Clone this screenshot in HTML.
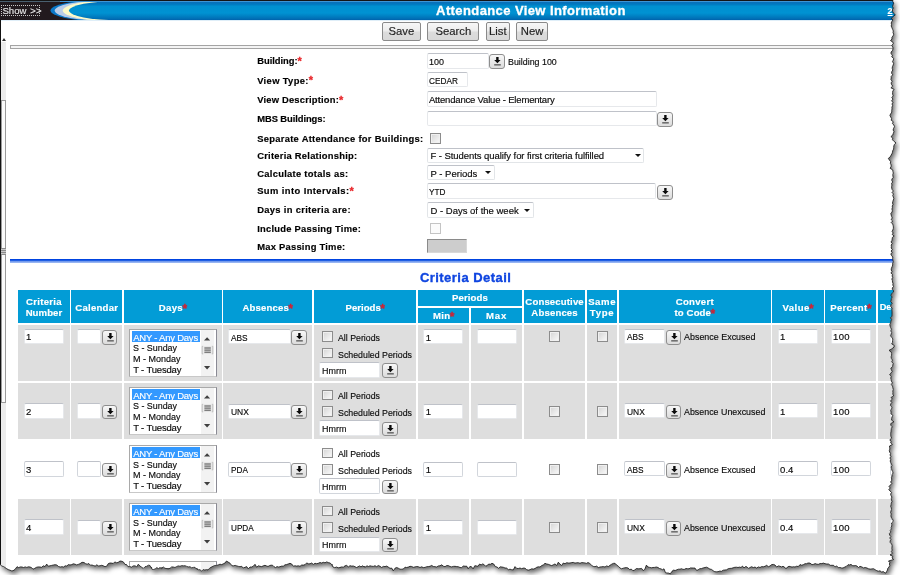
<!DOCTYPE html><html><head><meta charset="utf-8"><title>Attendance View Information</title><style>html,body{margin:0;padding:0;width:900px;height:575px;overflow:hidden;background:#fff;}body{font-family:"Liberation Sans", sans-serif;position:relative;}div{-webkit-text-stroke:0.15px currentColor;}#wrap{position:absolute;left:0;top:0;width:900px;height:575px;filter:drop-shadow(2.5px 3px 2.4px rgba(0,0,0,0.6));}#paper{position:absolute;left:0;top:0;width:900px;height:575px;background:#fff;overflow:hidden;clip-path:polygon(0.0px 0.0px,892.8px 0.0px,892.8px 1.6px,893.7px 3.2px,893.0px 4.9px,892.5px 6.5px,893.3px 8.1px,892.4px 9.8px,892.5px 11.4px,893.3px 13.0px,895.3px 14.8px,893.3px 16.5px,891.3px 18.2px,892.8px 20.0px,891.8px 21.5px,891.2px 23.0px,891.5px 24.5px,891.2px 26.0px,891.9px 27.7px,892.6px 29.3px,893.3px 31.0px,893.0px 32.6px,893.7px 34.2px,893.1px 35.8px,891.9px 37.4px,892.0px 39.0px,890.5px 40.6px,892.9px 42.2px,893.3px 43.8px,891.7px 45.4px,892.8px 47.0px,893.0px 48.7px,892.6px 50.3px,891.2px 52.0px,890.9px 53.6px,892.5px 55.2px,891.7px 56.8px,893.7px 58.4px,893.3px 60.0px,892.5px 61.7px,893.6px 63.3px,893.2px 65.0px,892.4px 66.7px,892.2px 68.3px,892.8px 70.0px,891.8px 71.6px,891.6px 73.2px,892.7px 74.8px,891.2px 76.4px,891.2px 78.0px,890.9px 79.6px,892.2px 81.2px,891.1px 82.9px,891.5px 84.5px,892.7px 86.1px,890.9px 87.8px,894.1px 89.4px,892.8px 91.0px,892.6px 92.6px,892.6px 94.2px,893.2px 95.9px,891.8px 97.5px,892.9px 99.1px,891.6px 100.8px,892.9px 102.4px,892.0px 104.0px,892.6px 105.6px,891.9px 107.2px,892.0px 108.9px,891.7px 110.5px,891.8px 112.1px,890.7px 113.8px,889.9px 115.4px,890.7px 117.0px,891.6px 118.6px,891.2px 120.2px,893.3px 121.8px,892.4px 123.4px,893.8px 125.0px,894.5px 126.7px,893.6px 128.3px,893.1px 130.0px,894.0px 131.7px,893.3px 133.3px,892.8px 135.0px,890.9px 136.6px,892.8px 138.1px,892.4px 139.7px,893.9px 141.3px,896.0px 142.9px,894.4px 144.4px,893.8px 146.0px,893.7px 147.6px,893.6px 149.1px,892.7px 150.7px,892.5px 152.2px,891.9px 153.8px,891.0px 155.3px,890.2px 156.9px,888.3px 158.4px,889.4px 160.0px,890.7px 161.7px,890.3px 163.3px,891.2px 165.0px,891.0px 166.7px,890.1px 168.3px,892.8px 170.0px,892.9px 171.5px,893.3px 173.0px,892.8px 174.5px,892.9px 176.0px,893.2px 177.5px,891.9px 179.0px,891.8px 180.5px,892.7px 182.0px,891.5px 183.5px,892.0px 185.0px,891.6px 186.5px,891.7px 188.0px,892.1px 189.5px,893.4px 191.0px,892.0px 192.5px,893.5px 194.0px,892.7px 195.5px,893.3px 197.0px,893.8px 198.5px,893.3px 200.0px,892.8px 201.5px,892.5px 203.0px,893.0px 204.5px,892.2px 206.0px,892.4px 207.5px,891.9px 209.0px,892.3px 210.5px,892.1px 212.0px,890.8px 213.5px,891.2px 215.0px,891.6px 216.5px,892.3px 218.0px,891.1px 219.5px,892.7px 221.0px,891.2px 222.5px,892.7px 224.0px,893.1px 225.5px,893.4px 227.0px,893.3px 228.5px,892.8px 230.0px,892.1px 231.5px,893.2px 233.0px,892.2px 234.5px,894.2px 236.0px,892.3px 237.5px,892.2px 239.0px,891.9px 240.5px,891.0px 242.0px,892.2px 243.5px,891.2px 245.0px,891.4px 246.5px,891.2px 248.0px,892.3px 249.5px,891.1px 251.0px,892.1px 252.5px,890.8px 254.0px,891.5px 255.5px,892.8px 257.0px,892.6px 258.5px,892.8px 260.0px,893.3px 261.7px,892.6px 263.3px,892.7px 265.0px,892.1px 266.7px,891.4px 268.3px,891.2px 270.0px,892.0px 271.5px,890.9px 273.0px,892.4px 274.5px,892.1px 276.0px,892.7px 277.5px,891.8px 279.0px,892.4px 280.5px,892.5px 282.0px,893.0px 283.5px,892.8px 285.0px,893.5px 286.5px,892.3px 288.0px,892.4px 289.5px,893.8px 291.0px,892.8px 292.5px,891.4px 294.0px,891.0px 295.5px,892.1px 297.0px,891.3px 298.5px,891.2px 300.0px,890.7px 301.6px,892.2px 303.2px,890.9px 304.9px,890.7px 306.5px,892.1px 308.1px,891.8px 309.8px,892.0px 311.4px,892.0px 313.0px,892.0px 314.6px,891.9px 316.2px,890.4px 317.9px,891.6px 319.5px,890.9px 321.1px,890.6px 322.8px,889.8px 324.4px,890.1px 326.0px,890.6px 327.6px,891.5px 329.2px,890.8px 330.9px,891.6px 332.5px,891.2px 334.1px,890.5px 335.8px,891.7px 337.4px,892.8px 339.0px,892.5px 340.6px,892.5px 342.2px,891.7px 343.9px,894.3px 345.5px,894.0px 347.1px,891.9px 348.8px,889.0px 350.4px,891.2px 352.0px,891.6px 353.6px,891.6px 355.2px,891.1px 356.9px,891.4px 358.5px,892.5px 360.1px,891.7px 361.8px,893.2px 363.4px,892.8px 365.0px,892.6px 366.6px,890.8px 368.2px,891.4px 369.9px,892.2px 371.5px,890.9px 373.1px,889.6px 374.8px,891.3px 376.4px,890.7px 378.0px,891.2px 379.6px,891.4px 381.2px,892.4px 382.9px,891.3px 384.5px,892.5px 386.1px,892.8px 387.8px,893.3px 389.4px,892.8px 391.0px,892.9px 392.6px,892.8px 394.2px,893.7px 395.9px,891.0px 397.5px,892.4px 399.1px,890.4px 400.8px,891.8px 402.4px,890.7px 404.0px,890.4px 405.6px,892.0px 407.2px,891.5px 408.9px,890.6px 410.5px,891.1px 412.1px,890.9px 413.8px,892.8px 415.4px,892.0px 417.0px,891.6px 418.6px,891.6px 420.2px,894.0px 421.9px,890.8px 423.5px,890.7px 425.1px,892.2px 426.8px,891.4px 428.4px,891.2px 430.0px,891.0px 431.6px,890.7px 433.2px,890.7px 434.9px,890.9px 436.5px,891.7px 438.1px,889.8px 439.8px,891.0px 441.4px,890.7px 443.0px,892.4px 444.5px,889.5px 446.0px,889.6px 447.5px,889.9px 449.0px,889.3px 450.5px,889.6px 452.0px,890.6px 453.5px,890.0px 455.0px,890.9px 456.5px,889.9px 458.0px,890.7px 459.5px,890.2px 461.0px,890.6px 462.5px,891.5px 464.0px,891.9px 465.5px,891.2px 467.0px,891.5px 468.5px,891.8px 470.0px,892.6px 471.5px,893.0px 473.0px,892.2px 474.5px,892.0px 476.0px,891.4px 477.5px,891.7px 479.0px,891.6px 480.5px,890.6px 482.0px,891.8px 483.5px,890.4px 485.0px,889.0px 486.5px,890.3px 488.0px,888.8px 489.5px,890.0px 491.0px,891.6px 492.5px,890.6px 494.0px,891.0px 495.5px,891.9px 497.0px,891.3px 498.5px,891.5px 500.0px,892.0px 501.6px,891.3px 503.1px,891.1px 504.7px,890.6px 506.3px,891.3px 507.9px,891.5px 509.4px,891.0px 511.0px,890.5px 512.5px,891.3px 514.0px,890.9px 515.5px,891.1px 517.0px,891.9px 518.5px,893.1px 520.0px,893.1px 521.5px,891.5px 523.0px,891.7px 524.5px,891.7px 526.0px,891.1px 527.5px,891.3px 529.0px,890.2px 530.5px,890.8px 532.0px,889.4px 533.5px,889.6px 535.0px,890.8px 536.5px,889.7px 538.0px,890.9px 539.5px,890.1px 541.0px,890.2px 542.5px,891.6px 544.0px,892.1px 545.5px,892.0px 547.0px,891.8px 548.6px,892.2px 550.1px,891.3px 551.7px,892.6px 553.3px,890.0px 554.9px,892.8px 556.4px,892.0px 558.0px,893.7px 559.5px,888.5px 561.0px,889.8px 562.5px,889.4px 564.0px,889.8px 565.5px,889.0px 567.0px,887.7px 568.5px,887.5px 570.0px,886.6px 571.5px,886.0px 573.0px,885.0px 573.0px,883.3px 571.6px,881.7px 572.1px,880.0px 570.8px,878.4px 571.2px,876.8px 570.7px,875.1px 569.7px,873.5px 568.7px,871.9px 568.9px,870.2px 569.1px,868.6px 568.8px,867.0px 568.0px,865.2px 567.5px,863.5px 567.9px,861.8px 566.9px,860.0px 566.3px,858.5px 567.5px,857.0px 566.1px,855.5px 565.5px,854.0px 565.8px,852.5px 565.6px,851.0px 564.4px,849.5px 564.9px,848.0px 564.7px,846.3px 566.4px,844.7px 567.1px,843.0px 568.0px,841.4px 567.9px,839.9px 567.5px,838.3px 567.7px,836.7px 565.9px,835.1px 566.9px,833.6px 565.3px,832.0px 565.3px,830.2px 565.3px,828.5px 564.0px,826.8px 564.0px,825.0px 563.7px,823.4px 563.1px,821.8px 563.6px,820.1px 563.5px,818.5px 564.3px,816.9px 564.2px,815.2px 563.6px,813.6px 564.3px,812.0px 564.7px,810.0px 563.1px,808.0px 563.0px,806.5px 563.7px,805.0px 563.7px,803.3px 564.7px,801.7px 565.2px,800.0px 564.6px,798.3px 566.6px,796.7px 566.2px,795.0px 567.0px,793.5px 566.7px,792.0px 567.1px,790.5px 566.6px,789.0px 566.3px,787.5px 567.0px,786.0px 568.8px,784.5px 567.1px,783.0px 566.3px,781.5px 566.9px,780.0px 566.3px,778.3px 565.9px,776.7px 567.1px,775.0px 565.0px,773.3px 564.4px,771.7px 564.6px,770.0px 566.0px,768.3px 566.7px,766.7px 565.3px,765.0px 566.3px,763.3px 566.8px,761.7px 566.6px,760.0px 567.5px,758.3px 566.9px,756.7px 568.1px,755.0px 567.0px,753.3px 567.6px,751.7px 566.7px,750.0px 567.5px,748.5px 568.4px,747.0px 566.9px,745.5px 566.6px,744.0px 568.0px,742.5px 566.1px,741.0px 567.5px,739.5px 567.1px,738.0px 567.5px,736.4px 567.2px,734.8px 567.3px,733.1px 567.8px,731.5px 568.3px,729.9px 568.4px,728.2px 568.7px,726.6px 569.8px,725.0px 570.0px,723.2px 570.2px,721.5px 571.3px,719.8px 571.1px,718.0px 571.7px,716.4px 571.8px,714.8px 571.7px,713.1px 570.7px,711.5px 569.4px,709.9px 569.1px,708.2px 568.0px,706.6px 567.2px,705.0px 567.5px,703.2px 567.9px,701.5px 568.6px,699.8px 568.7px,698.0px 570.0px,696.5px 570.3px,695.0px 568.1px,693.5px 568.0px,692.0px 568.0px,690.5px 567.9px,689.0px 568.8px,687.5px 568.7px,686.0px 568.5px,684.5px 569.3px,683.0px 569.4px,681.5px 568.7px,680.0px 569.2px,678.4px 569.2px,676.8px 569.8px,675.2px 570.5px,673.6px 570.1px,672.0px 571.3px,670.3px 573.9px,668.7px 573.1px,667.0px 573.0px,665.5px 572.8px,664.0px 568.8px,662.5px 569.7px,661.0px 568.9px,659.5px 568.5px,658.0px 567.5px,656.3px 567.0px,654.7px 567.4px,653.0px 567.5px,651.3px 567.8px,649.7px 567.4px,648.0px 567.0px,646.4px 565.1px,644.8px 569.4px,643.2px 570.6px,641.6px 568.4px,640.0px 568.7px,638.2px 568.8px,636.5px 568.5px,634.8px 569.9px,633.0px 570.8px,631.3px 569.1px,629.7px 569.6px,628.0px 568.0px,626.4px 567.6px,624.8px 567.8px,623.2px 568.2px,621.6px 568.8px,620.0px 568.0px,618.3px 566.2px,616.7px 565.1px,615.0px 563.3px,613.3px 563.4px,611.7px 564.2px,610.0px 565.3px,608.3px 566.6px,606.7px 565.9px,605.0px 567.0px,603.3px 566.6px,601.7px 566.8px,600.0px 567.0px,598.3px 567.6px,596.7px 566.1px,595.0px 566.7px,593.2px 566.4px,591.5px 565.2px,589.8px 563.5px,588.0px 562.5px,586.4px 563.4px,584.8px 562.9px,583.2px 562.7px,581.6px 562.6px,580.0px 563.3px,578.3px 562.7px,576.7px 562.8px,575.0px 563.1px,573.3px 562.4px,571.7px 562.6px,570.0px 563.0px,568.3px 563.0px,566.7px 562.7px,565.0px 563.7px,563.3px 563.0px,561.7px 565.5px,560.0px 564.2px,558.3px 562.2px,556.7px 565.5px,555.0px 563.9px,553.3px 564.8px,551.7px 565.6px,550.0px 565.0px,548.3px 564.3px,546.7px 564.0px,545.0px 563.3px,543.3px 564.9px,541.7px 565.6px,540.0px 567.0px,538.3px 566.8px,536.7px 567.3px,535.0px 568.5px,533.3px 569.1px,531.7px 568.8px,530.0px 569.7px,528.3px 570.1px,526.7px 569.7px,525.0px 568.2px,523.3px 568.1px,521.7px 568.7px,520.0px 568.0px,518.3px 568.5px,516.7px 568.4px,515.0px 566.6px,513.3px 569.9px,511.7px 569.7px,510.0px 569.2px,508.3px 569.7px,506.7px 568.1px,505.0px 568.0px,503.4px 567.3px,501.8px 567.0px,500.2px 566.8px,498.6px 568.3px,497.0px 567.0px,495.3px 566.6px,493.7px 564.0px,492.0px 563.3px,490.4px 564.3px,488.9px 564.1px,487.3px 565.2px,485.8px 566.3px,484.2px 564.7px,482.7px 563.9px,481.1px 564.9px,479.6px 564.0px,478.0px 566.3px,476.4px 565.9px,474.8px 565.7px,473.1px 568.9px,471.5px 566.7px,469.9px 566.5px,468.2px 568.8px,466.6px 566.1px,465.0px 566.3px,463.3px 565.9px,461.7px 567.7px,460.0px 567.5px,458.3px 566.7px,456.7px 566.6px,455.0px 566.3px,453.3px 566.4px,451.7px 566.9px,450.0px 566.5px,448.3px 565.6px,446.7px 565.6px,445.0px 566.7px,443.3px 566.2px,441.7px 564.8px,440.0px 565.8px,438.3px 565.9px,436.7px 567.0px,435.0px 566.7px,433.3px 566.5px,431.7px 565.4px,430.0px 566.3px,428.3px 566.6px,426.7px 566.7px,425.0px 567.4px,423.3px 567.6px,421.7px 566.8px,420.0px 567.5px,418.3px 566.7px,416.7px 566.5px,415.0px 566.9px,413.3px 567.3px,411.7px 566.5px,410.0px 566.3px,408.3px 567.1px,406.7px 567.5px,405.0px 567.2px,403.3px 569.0px,401.7px 569.2px,400.0px 569.2px,398.3px 568.2px,396.7px 567.5px,395.0px 568.2px,393.3px 570.9px,391.7px 568.1px,390.0px 568.3px,388.3px 567.1px,386.7px 566.1px,385.0px 566.6px,383.3px 566.4px,381.7px 567.5px,380.0px 566.3px,378.3px 565.5px,376.7px 566.7px,375.0px 565.7px,373.3px 566.4px,371.7px 566.2px,370.0px 565.8px,368.5px 566.5px,367.0px 565.8px,365.5px 566.9px,364.0px 566.8px,362.5px 565.8px,361.0px 566.9px,359.5px 565.9px,358.0px 566.8px,356.5px 567.5px,355.0px 566.7px,353.3px 566.0px,351.7px 566.1px,350.0px 565.7px,348.3px 566.9px,346.7px 565.4px,345.0px 565.8px,343.3px 567.2px,341.7px 566.9px,340.0px 567.5px,338.2px 567.8px,336.5px 567.0px,334.8px 567.7px,333.0px 567.0px,331.5px 564.2px,330.0px 563.0px,328.3px 562.6px,326.7px 561.9px,325.0px 562.8px,323.3px 562.3px,321.7px 563.0px,320.0px 562.5px,318.3px 563.3px,316.7px 563.7px,315.0px 563.3px,313.3px 564.4px,311.7px 563.0px,310.0px 563.8px,308.3px 563.8px,306.7px 562.9px,305.0px 564.7px,303.3px 565.1px,301.7px 565.0px,300.0px 566.3px,298.3px 565.8px,296.7px 566.1px,295.0px 565.8px,293.3px 566.2px,291.7px 564.0px,290.0px 563.3px,288.3px 563.9px,286.7px 564.6px,285.0px 564.8px,283.3px 566.2px,281.7px 566.1px,280.0px 566.7px,278.5px 567.0px,277.0px 566.6px,275.5px 567.6px,274.0px 566.7px,272.5px 565.2px,271.0px 565.2px,269.5px 565.6px,268.0px 566.5px,266.5px 565.9px,265.0px 565.3px,263.3px 565.8px,261.7px 566.6px,260.0px 566.3px,258.3px 565.8px,256.7px 567.3px,255.0px 564.3px,253.3px 566.2px,251.7px 567.0px,250.0px 567.0px,248.3px 568.9px,246.7px 566.6px,245.0px 567.3px,243.3px 568.0px,241.7px 566.3px,240.0px 566.7px,238.4px 566.4px,236.8px 565.9px,235.2px 565.4px,233.6px 565.8px,232.0px 565.8px,230.0px 563.2px,228.0px 562.0px,226.5px 561.0px,225.0px 563.0px,223.3px 563.8px,221.7px 564.6px,220.0px 564.2px,218.2px 564.9px,216.5px 565.5px,214.8px 565.4px,213.0px 566.3px,211.3px 567.1px,209.7px 568.1px,208.0px 570.0px,206.4px 569.6px,204.8px 570.0px,203.2px 569.5px,201.6px 571.1px,200.0px 569.7px,198.3px 569.7px,196.7px 569.1px,195.0px 567.3px,193.3px 567.4px,191.7px 567.8px,190.0px 566.7px,188.3px 566.9px,186.7px 566.4px,185.0px 565.7px,183.3px 565.8px,181.7px 565.6px,180.0px 566.3px,178.3px 565.9px,176.7px 566.5px,175.0px 567.5px,173.3px 567.0px,171.7px 566.9px,170.0px 568.3px,168.3px 568.8px,166.7px 568.6px,165.0px 568.3px,163.3px 567.0px,161.7px 568.6px,160.0px 567.5px,158.4px 568.6px,156.8px 567.6px,155.2px 568.9px,153.6px 569.5px,152.0px 569.2px,150.0px 565.5px,148.3px 565.2px,146.7px 566.3px,145.0px 566.7px,143.3px 568.4px,141.7px 567.2px,140.0px 566.1px,138.3px 564.2px,136.7px 566.8px,135.0px 565.8px,133.2px 565.9px,131.5px 567.1px,129.8px 566.5px,128.0px 566.7px,126.5px 564.5px,125.0px 564.5px,123.5px 562.1px,122.0px 561.3px,120.0px 561.0px,118.0px 562.5px,116.4px 562.7px,114.8px 561.9px,113.2px 563.5px,111.6px 563.1px,110.0px 563.0px,108.3px 563.6px,106.7px 566.2px,105.0px 566.7px,103.3px 565.8px,101.7px 565.3px,100.0px 565.8px,98.4px 565.9px,96.8px 564.8px,95.2px 566.1px,93.6px 565.6px,92.0px 565.0px,90.4px 565.2px,88.8px 563.5px,87.2px 564.2px,85.6px 563.7px,84.0px 562.5px,82.0px 562.3px,80.0px 563.7px,78.3px 564.4px,76.7px 564.9px,75.0px 564.2px,73.3px 563.8px,71.7px 564.6px,70.0px 565.0px,68.4px 564.6px,66.8px 566.0px,65.2px 565.8px,63.6px 567.0px,62.0px 566.7px,60.2px 567.0px,58.5px 566.5px,56.8px 565.0px,55.0px 564.7px,53.3px 565.0px,51.7px 565.4px,50.0px 565.8px,48.3px 566.2px,46.7px 564.1px,45.0px 566.6px,43.3px 565.8px,41.7px 567.3px,40.0px 567.0px,38.2px 566.9px,36.5px 567.3px,34.8px 568.3px,33.0px 569.2px,31.5px 567.6px,30.0px 567.0px,28.4px 566.8px,26.8px 567.4px,25.2px 566.9px,23.6px 567.5px,22.0px 567.0px,20.3px 566.9px,18.7px 567.6px,17.0px 566.7px,15.0px 569.4px,13.0px 570.8px,11.4px 570.8px,9.8px 570.1px,8.2px 569.6px,6.6px 568.6px,5.0px 567.5px,3.3px 566.4px,1.7px 566.1px,0.0px 564.2px,0.0px 564.2px);}</style></head><body><div id="wrap"><div id="paper">
<svg width="900" height="21" style="position:absolute;left:0;top:0" viewBox="0 0 900 21"><defs><linearGradient id="hg" x1="0" y1="0" x2="0" y2="21" gradientUnits="userSpaceOnUse"><stop offset="0" stop-color="#0a6fb8"/><stop offset="0.095" stop-color="#0a6fb8"/><stop offset="0.2" stop-color="#0078c0"/><stop offset="0.3" stop-color="#0090d0"/><stop offset="0.62" stop-color="#0092d2"/><stop offset="0.75" stop-color="#0082c4"/><stop offset="0.87" stop-color="#0072b8"/><stop offset="0.95" stop-color="#0062ac"/><stop offset="1" stop-color="#0062ac"/></linearGradient><clipPath id="hc"><rect x="0" y="1" width="900" height="19"/></clipPath></defs><rect x="0" y="0" width="900" height="21" fill="url(#hg)"/><rect x="0" y="1" width="110" height="19" fill="#221a1e"/><g clip-path="url(#hc)"><ellipse cx="100" cy="10.6" rx="49.5" ry="10.5" fill="#0a78c8"/><ellipse cx="104" cy="10.6" rx="49.3" ry="10" fill="#b9cce8"/><ellipse cx="112" cy="10.6" rx="49.3" ry="10.3" fill="#fcfac8"/><ellipse cx="119" cy="10.6" rx="50" ry="9.6" fill="url(#hg)"/><rect x="119" y="0" width="781" height="21" fill="url(#hg)"/></g><rect x="0" y="0" width="900" height="1" fill="#141414"/><rect x="0" y="1" width="60" height="1" fill="#4a6070"/><rect x="60" y="1" width="840" height="1" fill="#3d94d4"/><rect x="0" y="20" width="900" height="1" fill="#dfeef8"/></svg>
<div style="position:absolute;left:1.20px;top:5.20px;width:39.20px;height:10.50px;box-sizing:border-box;border:1px dotted #c8c8c8;"></div>
<div style="position:absolute;left:2.40px;top:5.77px;font-size:9.6px;line-height:9.6px;font-weight:normal;color:#e6e6e6;white-space:nowrap;word-spacing:1.2px;"><span style="">Show <span style="letter-spacing:0.1px">&gt;&gt;</span></span></div>
<div style="position:absolute;left:436.10px;top:3.70px;font-size:13px;line-height:13px;font-weight:bold;color:#fff;white-space:nowrap;-webkit-text-stroke:0.3px #fff;"><span style="letter-spacing:0.400px;">Attendance View Information</span></div>
<div style="position:absolute;left:887.60px;top:6.98px;font-size:9px;line-height:9px;font-weight:bold;color:#fff;white-space:nowrap;text-decoration:underline;"><span style="">2</span></div>
<div style="position:absolute;left:382.00px;top:22.30px;width:38.70px;height:18.50px;box-sizing:border-box;border:1px solid #8a8a8a;border-radius:2px;background:linear-gradient(#f7f7f7 0%,#ededed 45%,#dcdcdc 55%,#d8d8d8 100%);font-size:11.3px;line-height:16.5px;color:#222;text-align:center;">Save</div>
<div style="position:absolute;left:427.30px;top:22.30px;width:52.00px;height:18.50px;box-sizing:border-box;border:1px solid #8a8a8a;border-radius:2px;background:linear-gradient(#f7f7f7 0%,#ededed 45%,#dcdcdc 55%,#d8d8d8 100%);font-size:11.3px;line-height:16.5px;color:#222;text-align:center;">Search</div>
<div style="position:absolute;left:486.00px;top:22.30px;width:23.50px;height:18.50px;box-sizing:border-box;border:1px solid #8a8a8a;border-radius:2px;background:linear-gradient(#f7f7f7 0%,#ededed 45%,#dcdcdc 55%,#d8d8d8 100%);font-size:11.3px;line-height:16.5px;color:#222;text-align:center;">List</div>
<div style="position:absolute;left:516.00px;top:22.30px;width:32.20px;height:18.50px;box-sizing:border-box;border:1px solid #8a8a8a;border-radius:2px;background:linear-gradient(#f7f7f7 0%,#ededed 45%,#dcdcdc 55%,#d8d8d8 100%);font-size:11.3px;line-height:16.5px;color:#222;text-align:center;">New</div>
<div style="position:absolute;left:10.00px;top:45.00px;width:890.00px;height:4.00px;box-sizing:border-box;border:1px solid #a4a4a4;background:#f4f4f4;"></div>
<div style="position:absolute;left:0.00px;top:20.00px;width:1.00px;height:555.00px;background:#111;"></div>
<div style="position:absolute;left:1.00px;top:42.00px;width:5.00px;height:533.00px;background:#ececec;"></div>
<div style="position:absolute;left:2px;top:38px;width:0;height:0;border-left:2px solid transparent;border-right:2px solid transparent;border-bottom:3px solid #333;"></div>
<div style="position:absolute;left:1.00px;top:100.00px;width:5.00px;height:303.00px;box-sizing:border-box;border:1px solid #9a9a9a;background:#fafafa;"></div>
<div style="position:absolute;left:1.00px;top:248.30px;width:5.00px;height:6.30px;background:repeating-linear-gradient(#8a8a8a 0,#8a8a8a 1px,#c8c8c8 1px,#c8c8c8 2px);"></div>
<div style="position:absolute;left:257.20px;top:56.44px;font-size:9.4px;line-height:9.4px;font-weight:bold;color:#000;white-space:nowrap;"><span style="letter-spacing:-0.023px;">Building:</span><span style="color:#e8262a;font-size:11px;line-height:0;position:relative;top:0.9px;-webkit-text-stroke:0.3px #e8262a">*</span></div>
<div style="position:absolute;left:257.20px;top:75.54px;font-size:9.4px;line-height:9.4px;font-weight:bold;color:#000;white-space:nowrap;"><span style="letter-spacing:0.348px;">View Type:</span><span style="color:#e8262a;font-size:11px;line-height:0;position:relative;top:0.9px;-webkit-text-stroke:0.3px #e8262a">*</span></div>
<div style="position:absolute;left:257.20px;top:94.74px;font-size:9.4px;line-height:9.4px;font-weight:bold;color:#000;white-space:nowrap;"><span style="letter-spacing:0.196px;">View Description:</span><span style="color:#e8262a;font-size:11px;line-height:0;position:relative;top:0.9px;-webkit-text-stroke:0.3px #e8262a">*</span></div>
<div style="position:absolute;left:257.20px;top:114.34px;font-size:9.4px;line-height:9.4px;font-weight:bold;color:#000;white-space:nowrap;"><span style="letter-spacing:-0.071px;">MBS Buildings:</span></div>
<div style="position:absolute;left:257.20px;top:133.84px;font-size:9.4px;line-height:9.4px;font-weight:bold;color:#000;white-space:nowrap;"><span style="letter-spacing:0.287px;">Separate Attendance for Buildings:</span></div>
<div style="position:absolute;left:257.20px;top:150.74px;font-size:9.4px;line-height:9.4px;font-weight:bold;color:#000;white-space:nowrap;"><span style="letter-spacing:0.244px;">Criteria Relationship:</span></div>
<div style="position:absolute;left:257.20px;top:168.54px;font-size:9.4px;line-height:9.4px;font-weight:bold;color:#000;white-space:nowrap;"><span style="letter-spacing:0.289px;">Calculate totals as:</span></div>
<div style="position:absolute;left:257.20px;top:186.24px;font-size:9.4px;line-height:9.4px;font-weight:bold;color:#000;white-space:nowrap;"><span style="letter-spacing:0.419px;">Sum into Intervals:</span><span style="color:#e8262a;font-size:11px;line-height:0;position:relative;top:0.9px;-webkit-text-stroke:0.3px #e8262a">*</span></div>
<div style="position:absolute;left:257.20px;top:205.34px;font-size:9.4px;line-height:9.4px;font-weight:bold;color:#000;white-space:nowrap;"><span style="letter-spacing:0.315px;">Days in criteria are:</span></div>
<div style="position:absolute;left:257.20px;top:223.64px;font-size:9.4px;line-height:9.4px;font-weight:bold;color:#000;white-space:nowrap;"><span style="letter-spacing:0.241px;">Include Passing Time:</span></div>
<div style="position:absolute;left:257.20px;top:242.24px;font-size:9.4px;line-height:9.4px;font-weight:bold;color:#000;white-space:nowrap;"><span style="letter-spacing:0.238px;">Max Passing Time:</span></div>
<div style="position:absolute;left:426.50px;top:53.00px;width:62.00px;height:15.60px;box-sizing:border-box;background:#fff;border:1px solid #e6e8eb;border-top-color:#bfc2c9;border-radius:2px;"></div>
<div style="position:absolute;left:428.90px;top:56.76px;font-size:9.5px;line-height:9.5px;font-weight:normal;color:#0a0a0a;white-space:nowrap;"><span style="display:inline-block;transform:scaleX(0.9427);transform-origin:0 0;">100</span></div>
<div style="position:absolute;left:489.20px;top:54.20px;width:15.60px;height:14.60px;box-sizing:border-box;border:1px solid #8e8e8e;border-radius:3px;background:linear-gradient(#f8f8f8,#e9e9e9 50%,#dcdcdc);"><svg width="15.6" height="14.6" style="position:absolute;left:-1px;top:-1px" viewBox="0 0 15.6 14.6"><path d="M7.2 2.9 h2.4 v3.1 h2.0 l-3.2 3.3 l-3.2 -3.3 h2.0 z" fill="#0a0a0a"/><rect x="5.2" y="10.2" width="6.6" height="1.3" fill="#555"/></svg></div>
<div style="position:absolute;left:508.30px;top:56.96px;font-size:9.5px;line-height:9.5px;font-weight:normal;color:#0a0a0a;white-space:nowrap;"><span style="display:inline-block;transform:scaleX(0.9322);transform-origin:0 0;">Building 100</span></div>
<div style="position:absolute;left:426.50px;top:72.10px;width:41.10px;height:15.40px;box-sizing:border-box;background:#fff;border:1px solid #e6e8eb;border-top-color:#bfc2c9;border-radius:2px;"></div>
<div style="position:absolute;left:428.90px;top:75.76px;font-size:9.5px;line-height:9.5px;font-weight:normal;color:#0a0a0a;white-space:nowrap;"><span style="display:inline-block;transform:scaleX(0.8703);transform-origin:0 0;">CEDAR</span></div>
<div style="position:absolute;left:426.50px;top:91.30px;width:230.20px;height:15.30px;box-sizing:border-box;background:#fff;border:1px solid #e6e8eb;border-top-color:#bfc2c9;border-radius:2px;"></div>
<div style="position:absolute;left:428.90px;top:94.91px;font-size:9.5px;line-height:9.5px;font-weight:normal;color:#0a0a0a;white-space:nowrap;"><span style="letter-spacing:-0.180px;">Attendance Value - Elementary</span></div>
<div style="position:absolute;left:426.50px;top:110.80px;width:230.20px;height:15.40px;box-sizing:border-box;background:#fff;border:1px solid #e6e8eb;border-top-color:#bfc2c9;border-radius:2px;"></div>
<div style="position:absolute;left:657.30px;top:112.00px;width:15.60px;height:14.60px;box-sizing:border-box;border:1px solid #8e8e8e;border-radius:3px;background:linear-gradient(#f8f8f8,#e9e9e9 50%,#dcdcdc);"><svg width="15.6" height="14.6" style="position:absolute;left:-1px;top:-1px" viewBox="0 0 15.6 14.6"><path d="M7.2 2.9 h2.4 v3.1 h2.0 l-3.2 3.3 l-3.2 -3.3 h2.0 z" fill="#0a0a0a"/><rect x="5.2" y="10.2" width="6.6" height="1.3" fill="#555"/></svg></div>
<div style="position:absolute;left:430.00px;top:133.00px;width:11.00px;height:10.80px;box-sizing:border-box;border:1px solid #8c8c8c;background:linear-gradient(135deg,#d4d4d4,#fbfbfb);box-shadow:inset 0 0 0 1px #f0f0f0;"></div>
<div style="position:absolute;left:426.50px;top:147.50px;width:217.80px;height:15.60px;box-sizing:border-box;background:#fff;border:1px solid #e2e5e8;border-top-color:#bfc2c9;border-radius:2px;"></div>
<div style="position:absolute;left:430.50px;top:151.26px;font-size:9.5px;line-height:9.5px;font-weight:normal;color:#0a0a0a;white-space:nowrap;"><span style="letter-spacing:-0.067px;">F - Students qualify for first criteria fulfilled</span></div>
<div style="position:absolute;left:634.5px;top:153.7px;width:0;height:0;border-left:3px solid transparent;border-right:3px solid transparent;border-top:3.5px solid #111;"></div>
<div style="position:absolute;left:426.50px;top:165.10px;width:68.10px;height:15.10px;box-sizing:border-box;background:#fff;border:1px solid #e2e5e8;border-top-color:#bfc2c9;border-radius:2px;"></div>
<div style="position:absolute;left:430.50px;top:168.61px;font-size:9.5px;line-height:9.5px;font-weight:normal;color:#0a0a0a;white-space:nowrap;"><span style="">P - Periods</span></div>
<div style="position:absolute;left:484.8px;top:171.1px;width:0;height:0;border-left:3px solid transparent;border-right:3px solid transparent;border-top:3.5px solid #111;"></div>
<div style="position:absolute;left:426.50px;top:183.10px;width:229.80px;height:16.30px;box-sizing:border-box;background:#fff;border:1px solid #e6e8eb;border-top-color:#bfc2c9;border-radius:2px;"></div>
<div style="position:absolute;left:428.90px;top:187.21px;font-size:9.5px;line-height:9.5px;font-weight:normal;color:#0a0a0a;white-space:nowrap;"><span style="display:inline-block;transform:scaleX(0.8658);transform-origin:0 0;">YTD</span></div>
<div style="position:absolute;left:657.30px;top:185.30px;width:15.60px;height:14.60px;box-sizing:border-box;border:1px solid #8e8e8e;border-radius:3px;background:linear-gradient(#f8f8f8,#e9e9e9 50%,#dcdcdc);"><svg width="15.6" height="14.6" style="position:absolute;left:-1px;top:-1px" viewBox="0 0 15.6 14.6"><path d="M7.2 2.9 h2.4 v3.1 h2.0 l-3.2 3.3 l-3.2 -3.3 h2.0 z" fill="#0a0a0a"/><rect x="5.2" y="10.2" width="6.6" height="1.3" fill="#555"/></svg></div>
<div style="position:absolute;left:426.50px;top:202.40px;width:107.00px;height:15.40px;box-sizing:border-box;background:#fff;border:1px solid #e2e5e8;border-top-color:#bfc2c9;border-radius:2px;"></div>
<div style="position:absolute;left:430.50px;top:206.06px;font-size:9.5px;line-height:9.5px;font-weight:normal;color:#0a0a0a;white-space:nowrap;"><span style="">D - Days of the week</span></div>
<div style="position:absolute;left:523.7px;top:208.5px;width:0;height:0;border-left:3px solid transparent;border-right:3px solid transparent;border-top:3.5px solid #111;"></div>
<div style="position:absolute;left:430.00px;top:223.20px;width:11.00px;height:10.80px;box-sizing:border-box;border:1px solid #c4c4c4;background:#fbfbfb;"></div>
<div style="position:absolute;left:426.50px;top:239.00px;width:40.30px;height:14.40px;box-sizing:border-box;background:#cdcdcd;border-top:1.6px solid #8a8a8a;border-left:1.6px solid #8a8a8a;border-right:1px solid #d8d8d8;border-bottom:1px solid #d8d8d8;"></div>
<div style="position:absolute;left:10.00px;top:258.80px;width:890.00px;height:4.20px;background:linear-gradient(#0040e0 0%,#0048e0 30%,#6a94ec 55%,#a8c2f4 100%);"></div>
<div style="position:absolute;left:419.90px;top:271.20px;font-size:13px;line-height:13px;font-weight:bold;color:#0f45e0;white-space:nowrap;-webkit-text-stroke:0.35px #0f45e0;"><span style="letter-spacing:0.461px;">Criteria Detail</span></div>
<div style="position:absolute;left:18.30px;top:290.10px;width:51.30px;height:33.30px;background:#029cd6;"></div>
<div style="position:absolute;left:71.10px;top:290.10px;width:51.40px;height:33.30px;background:#029cd6;"></div>
<div style="position:absolute;left:124.00px;top:290.10px;width:97.80px;height:33.30px;background:#029cd6;"></div>
<div style="position:absolute;left:223.30px;top:290.10px;width:89.00px;height:33.30px;background:#029cd6;"></div>
<div style="position:absolute;left:314.00px;top:290.10px;width:102.40px;height:33.30px;background:#029cd6;"></div>
<div style="position:absolute;left:524.00px;top:290.10px;width:61.20px;height:33.30px;background:#029cd6;"></div>
<div style="position:absolute;left:587.00px;top:290.10px;width:30.20px;height:33.30px;background:#029cd6;"></div>
<div style="position:absolute;left:619.00px;top:290.10px;width:151.70px;height:33.30px;background:#029cd6;"></div>
<div style="position:absolute;left:772.30px;top:290.10px;width:51.70px;height:33.30px;background:#029cd6;"></div>
<div style="position:absolute;left:825.30px;top:290.10px;width:51.20px;height:33.30px;background:#029cd6;"></div>
<div style="position:absolute;left:878.30px;top:290.10px;width:81.70px;height:33.30px;background:#029cd6;"></div>
<div style="position:absolute;left:418.00px;top:290.10px;width:104.00px;height:15.60px;background:#029cd6;"></div>
<div style="position:absolute;left:418.00px;top:307.50px;width:51.40px;height:15.90px;background:#029cd6;"></div>
<div style="position:absolute;left:471.00px;top:307.50px;width:51.00px;height:15.90px;background:#029cd6;"></div>
<div style="position:absolute;left:18.30px;top:296.57px;width:51.30px;text-align:center;font-size:9.6px;line-height:9.6px;font-weight:bold;color:#fff;white-space:nowrap;"><span style="letter-spacing:0.295px;">Criteria</span></div>
<div style="position:absolute;left:18.30px;top:307.57px;width:51.30px;text-align:center;font-size:9.6px;line-height:9.6px;font-weight:bold;color:#fff;white-space:nowrap;"><span style="letter-spacing:0.062px;">Number</span></div>
<div style="position:absolute;left:71.10px;top:302.57px;width:51.40px;text-align:center;font-size:9.6px;line-height:9.6px;font-weight:bold;color:#fff;white-space:nowrap;"><span style="letter-spacing:0.228px;">Calendar</span></div>
<div style="position:absolute;left:124.00px;top:302.57px;width:97.80px;text-align:center;font-size:9.6px;line-height:9.6px;font-weight:bold;color:#fff;white-space:nowrap;"><span style="letter-spacing:0.374px;">Days</span><span style="color:#d42030;font-size:12px;line-height:0;position:relative;top:2.3px;margin-left:-0.6px;-webkit-text-stroke:0.3px #d42030">*</span></div>
<div style="position:absolute;left:223.30px;top:302.57px;width:89.00px;text-align:center;font-size:9.6px;line-height:9.6px;font-weight:bold;color:#fff;white-space:nowrap;"><span style="letter-spacing:0.133px;">Absences</span><span style="color:#d42030;font-size:12px;line-height:0;position:relative;top:2.3px;margin-left:-0.6px;-webkit-text-stroke:0.3px #d42030">*</span></div>
<div style="position:absolute;left:314.00px;top:302.57px;width:102.40px;text-align:center;font-size:9.6px;line-height:9.6px;font-weight:bold;color:#fff;white-space:nowrap;"><span style="letter-spacing:0.009px;">Periods</span><span style="color:#d42030;font-size:12px;line-height:0;position:relative;top:2.3px;margin-left:-0.6px;-webkit-text-stroke:0.3px #d42030">*</span></div>
<div style="position:absolute;left:418.00px;top:293.27px;width:104.00px;text-align:center;font-size:9.6px;line-height:9.6px;font-weight:bold;color:#fff;white-space:nowrap;"><span style="letter-spacing:0.126px;">Periods</span></div>
<div style="position:absolute;left:418.00px;top:310.57px;width:51.40px;text-align:center;font-size:9.6px;line-height:9.6px;font-weight:bold;color:#fff;white-space:nowrap;"><span style="letter-spacing:0.214px;">Min</span><span style="color:#d42030;font-size:12px;line-height:0;position:relative;top:2.3px;margin-left:-0.6px;-webkit-text-stroke:0.3px #d42030">*</span></div>
<div style="position:absolute;left:471.00px;top:310.57px;width:51.00px;text-align:center;font-size:9.6px;line-height:9.6px;font-weight:bold;color:#fff;white-space:nowrap;"><span style="letter-spacing:0.794px;">Max</span></div>
<div style="position:absolute;left:524.00px;top:296.57px;width:61.20px;text-align:center;font-size:9.6px;line-height:9.6px;font-weight:bold;color:#fff;white-space:nowrap;"><span style="letter-spacing:0.130px;">Consecutive</span></div>
<div style="position:absolute;left:524.00px;top:307.57px;width:61.20px;text-align:center;font-size:9.6px;line-height:9.6px;font-weight:bold;color:#fff;white-space:nowrap;"><span style="letter-spacing:0.147px;">Absences</span></div>
<div style="position:absolute;left:587.00px;top:296.57px;width:30.20px;text-align:center;font-size:9.6px;line-height:9.6px;font-weight:bold;color:#fff;white-space:nowrap;"><span style="letter-spacing:0.584px;">Same</span></div>
<div style="position:absolute;left:587.00px;top:307.57px;width:30.20px;text-align:center;font-size:9.6px;line-height:9.6px;font-weight:bold;color:#fff;white-space:nowrap;"><span style="letter-spacing:0.757px;">Type</span></div>
<div style="position:absolute;left:619.00px;top:296.57px;width:151.70px;text-align:center;font-size:9.6px;line-height:9.6px;font-weight:bold;color:#fff;white-space:nowrap;"><span style="letter-spacing:0.285px;">Convert</span></div>
<div style="position:absolute;left:619.00px;top:307.57px;width:151.70px;text-align:center;font-size:9.6px;line-height:9.6px;font-weight:bold;color:#fff;white-space:nowrap;"><span style="letter-spacing:0.107px;">to Code</span><span style="color:#d42030;font-size:12px;line-height:0;position:relative;top:2.3px;margin-left:-0.6px;-webkit-text-stroke:0.3px #d42030">*</span></div>
<div style="position:absolute;left:772.30px;top:302.57px;width:51.70px;text-align:center;font-size:9.6px;line-height:9.6px;font-weight:bold;color:#fff;white-space:nowrap;"><span style="letter-spacing:0.395px;">Value</span><span style="color:#d42030;font-size:12px;line-height:0;position:relative;top:2.3px;margin-left:-0.6px;-webkit-text-stroke:0.3px #d42030">*</span></div>
<div style="position:absolute;left:825.30px;top:302.57px;width:51.20px;text-align:center;font-size:9.6px;line-height:9.6px;font-weight:bold;color:#fff;white-space:nowrap;"><span style="letter-spacing:0.293px;">Percent</span><span style="color:#d42030;font-size:12px;line-height:0;position:relative;top:2.3px;margin-left:-0.6px;-webkit-text-stroke:0.3px #d42030">*</span></div>
<div style="position:absolute;left:879.70px;top:303.21px;font-size:9.2px;line-height:9.2px;font-weight:bold;color:#fff;white-space:nowrap;"><span style="">Dea</span></div>
<div style="position:absolute;left:18.30px;top:324.60px;width:51.30px;height:56.30px;background:#dedede;"></div>
<div style="position:absolute;left:71.10px;top:324.60px;width:51.40px;height:56.30px;background:#dedede;"></div>
<div style="position:absolute;left:124.00px;top:324.60px;width:97.80px;height:56.30px;background:#dedede;"></div>
<div style="position:absolute;left:223.30px;top:324.60px;width:89.00px;height:56.30px;background:#dedede;"></div>
<div style="position:absolute;left:314.00px;top:324.60px;width:102.40px;height:56.30px;background:#dedede;"></div>
<div style="position:absolute;left:418.00px;top:324.60px;width:51.40px;height:56.30px;background:#dedede;"></div>
<div style="position:absolute;left:471.00px;top:324.60px;width:51.00px;height:56.30px;background:#dedede;"></div>
<div style="position:absolute;left:524.00px;top:324.60px;width:61.20px;height:56.30px;background:#dedede;"></div>
<div style="position:absolute;left:587.00px;top:324.60px;width:30.20px;height:56.30px;background:#dedede;"></div>
<div style="position:absolute;left:619.00px;top:324.60px;width:151.70px;height:56.30px;background:#dedede;"></div>
<div style="position:absolute;left:772.30px;top:324.60px;width:51.70px;height:56.30px;background:#dedede;"></div>
<div style="position:absolute;left:825.30px;top:324.60px;width:51.20px;height:56.30px;background:#dedede;"></div>
<div style="position:absolute;left:878.30px;top:324.60px;width:81.70px;height:56.30px;background:#dedede;"></div>
<div style="position:absolute;left:23.50px;top:328.60px;width:40.60px;height:15.40px;box-sizing:border-box;background:#fff;border:1px solid #e6e8eb;border-top-color:#bfc2c9;border-radius:2px;"></div>
<div style="position:absolute;left:25.90px;top:332.26px;font-size:9.5px;line-height:9.5px;font-weight:normal;color:#0a0a0a;white-space:nowrap;"><span style="">1</span></div>
<div style="position:absolute;left:76.70px;top:328.80px;width:24.00px;height:15.40px;box-sizing:border-box;background:#fff;border:1px solid #e6e8eb;border-top-color:#bfc2c9;border-radius:2px;"></div>
<div style="position:absolute;left:101.50px;top:330.20px;width:15.60px;height:14.60px;box-sizing:border-box;border:1px solid #8e8e8e;border-radius:3px;background:linear-gradient(#f8f8f8,#e9e9e9 50%,#dcdcdc);"><svg width="15.6" height="14.6" style="position:absolute;left:-1px;top:-1px" viewBox="0 0 15.6 14.6"><path d="M7.2 2.9 h2.4 v3.1 h2.0 l-3.2 3.3 l-3.2 -3.3 h2.0 z" fill="#0a0a0a"/><rect x="5.2" y="10.2" width="6.6" height="1.3" fill="#555"/></svg></div>
<div style="position:absolute;left:129.20px;top:328.60px;width:87.60px;height:48.30px;box-sizing:border-box;background:#fff;border:1px solid #a9a9a9;border-right-color:#8a8a94;border-bottom-color:#c8c8c8;"></div>
<div style="position:absolute;left:132.00px;top:331.10px;width:68.00px;height:10.80px;background:#3399ff;"></div>
<div style="position:absolute;left:133.20px;top:332.56px;font-size:9.5px;line-height:9.5px;font-weight:normal;color:#fff;white-space:nowrap;"><span style="letter-spacing:-0.230px;">ANY - Any Days</span></div>
<div style="position:absolute;left:133.20px;top:343.36px;font-size:9.5px;line-height:9.5px;font-weight:normal;color:#0a0a0a;white-space:nowrap;"><span style="display:inline-block;transform:scaleX(0.9351);transform-origin:0 0;">S - Sunday</span></div>
<div style="position:absolute;left:133.20px;top:354.06px;font-size:9.5px;line-height:9.5px;font-weight:normal;color:#0a0a0a;white-space:nowrap;"><span style="display:inline-block;transform:scaleX(0.9460);transform-origin:0 0;">M - Monday</span></div>
<div style="position:absolute;left:133.20px;top:364.56px;font-size:9.5px;line-height:9.5px;font-weight:normal;color:#0a0a0a;white-space:nowrap;"><span style="letter-spacing:-0.175px;">T - Tuesday</span></div>
<svg width="13" height="46" viewBox="0 0 13 46" style="position:absolute;left:201.00px;top:329.60px"><rect x="0" y="0" width="13" height="46" fill="#f2f2f2"/><polygon points="3,10.6 9.2,10.6 6.1,7.2" fill="#404040"/><polygon points="3,36 9.2,36 6.1,39.4" fill="#404040"/><path d="M2.2 16.3 h-1 v7.6 h1 M10.8 16.3 h1 v7.6 h-1" fill="none" stroke="#b8b8b8" stroke-width="0.9"/><rect x="2.6" y="16.2" width="8" height="7.8" fill="#e4e4e4"/><path d="M3.4 18 h6.4 M3.4 20.1 h6.4 M3.4 22.2 h6.4" stroke="#505050" stroke-width="1"/></svg>
<div style="position:absolute;left:228.40px;top:329.20px;width:62.30px;height:15.00px;box-sizing:border-box;background:#fff;border:1px solid #e6e8eb;border-top-color:#bfc2c9;border-radius:2px;"></div>
<div style="position:absolute;left:230.80px;top:332.66px;font-size:9.5px;line-height:9.5px;font-weight:normal;color:#0a0a0a;white-space:nowrap;"><span style="display:inline-block;transform:scaleX(0.8756);transform-origin:0 0;">ABS</span></div>
<div style="position:absolute;left:291.00px;top:330.30px;width:15.60px;height:14.60px;box-sizing:border-box;border:1px solid #8e8e8e;border-radius:3px;background:linear-gradient(#f8f8f8,#e9e9e9 50%,#dcdcdc);"><svg width="15.6" height="14.6" style="position:absolute;left:-1px;top:-1px" viewBox="0 0 15.6 14.6"><path d="M7.2 2.9 h2.4 v3.1 h2.0 l-3.2 3.3 l-3.2 -3.3 h2.0 z" fill="#0a0a0a"/><rect x="5.2" y="10.2" width="6.6" height="1.3" fill="#555"/></svg></div>
<div style="position:absolute;left:322.20px;top:331.40px;width:11.00px;height:10.80px;box-sizing:border-box;border:1px solid #8c8c8c;background:linear-gradient(135deg,#d4d4d4,#fbfbfb);box-shadow:inset 0 0 0 1px #f0f0f0;"></div>
<div style="position:absolute;left:337.80px;top:332.86px;font-size:9.5px;line-height:9.5px;font-weight:normal;color:#0a0a0a;white-space:nowrap;"><span style="display:inline-block;transform:scaleX(0.9236);transform-origin:0 0;">All Periods</span></div>
<div style="position:absolute;left:322.20px;top:347.70px;width:11.00px;height:10.80px;box-sizing:border-box;border:1px solid #8c8c8c;background:linear-gradient(135deg,#d4d4d4,#fbfbfb);box-shadow:inset 0 0 0 1px #f0f0f0;"></div>
<div style="position:absolute;left:337.80px;top:349.56px;font-size:9.5px;line-height:9.5px;font-weight:normal;color:#0a0a0a;white-space:nowrap;"><span style="display:inline-block;transform:scaleX(0.9273);transform-origin:0 0;">Scheduled Periods</span></div>
<div style="position:absolute;left:319.30px;top:362.20px;width:61.20px;height:15.40px;box-sizing:border-box;background:#fff;border:1px solid #e6e8eb;border-top-color:#bfc2c9;border-radius:2px;"></div>
<div style="position:absolute;left:321.70px;top:365.86px;font-size:9.5px;line-height:9.5px;font-weight:normal;color:#0a0a0a;white-space:nowrap;"><span style="display:inline-block;transform:scaleX(0.9416);transform-origin:0 0;">Hmrm</span></div>
<div style="position:absolute;left:382.20px;top:363.40px;width:15.60px;height:14.60px;box-sizing:border-box;border:1px solid #8e8e8e;border-radius:3px;background:linear-gradient(#f8f8f8,#e9e9e9 50%,#dcdcdc);"><svg width="15.6" height="14.6" style="position:absolute;left:-1px;top:-1px" viewBox="0 0 15.6 14.6"><path d="M7.2 2.9 h2.4 v3.1 h2.0 l-3.2 3.3 l-3.2 -3.3 h2.0 z" fill="#0a0a0a"/><rect x="5.2" y="10.2" width="6.6" height="1.3" fill="#555"/></svg></div>
<div style="position:absolute;left:423.40px;top:329.20px;width:40.00px;height:14.80px;box-sizing:border-box;background:#fff;border:1px solid #e6e8eb;border-top-color:#bfc2c9;border-radius:2px;"></div>
<div style="position:absolute;left:425.80px;top:332.56px;font-size:9.5px;line-height:9.5px;font-weight:normal;color:#0a0a0a;white-space:nowrap;"><span style="">1</span></div>
<div style="position:absolute;left:476.50px;top:329.20px;width:40.00px;height:14.80px;box-sizing:border-box;background:#fff;border:1px solid #e6e8eb;border-top-color:#bfc2c9;border-radius:2px;"></div>
<div style="position:absolute;left:549.20px;top:331.20px;width:11.00px;height:10.80px;box-sizing:border-box;border:1px solid #8c8c8c;background:linear-gradient(135deg,#d4d4d4,#fbfbfb);box-shadow:inset 0 0 0 1px #f0f0f0;"></div>
<div style="position:absolute;left:596.80px;top:331.20px;width:11.00px;height:10.80px;box-sizing:border-box;border:1px solid #8c8c8c;background:linear-gradient(135deg,#d4d4d4,#fbfbfb);box-shadow:inset 0 0 0 1px #f0f0f0;"></div>
<div style="position:absolute;left:624.20px;top:328.70px;width:40.50px;height:15.00px;box-sizing:border-box;background:#fff;border:1px solid #e6e8eb;border-top-color:#bfc2c9;border-radius:2px;"></div>
<div style="position:absolute;left:626.60px;top:332.16px;font-size:9.5px;line-height:9.5px;font-weight:normal;color:#0a0a0a;white-space:nowrap;"><span style="display:inline-block;transform:scaleX(0.8756);transform-origin:0 0;">ABS</span></div>
<div style="position:absolute;left:665.80px;top:330.30px;width:15.60px;height:14.60px;box-sizing:border-box;border:1px solid #8e8e8e;border-radius:3px;background:linear-gradient(#f8f8f8,#e9e9e9 50%,#dcdcdc);"><svg width="15.6" height="14.6" style="position:absolute;left:-1px;top:-1px" viewBox="0 0 15.6 14.6"><path d="M7.2 2.9 h2.4 v3.1 h2.0 l-3.2 3.3 l-3.2 -3.3 h2.0 z" fill="#0a0a0a"/><rect x="5.2" y="10.2" width="6.6" height="1.3" fill="#555"/></svg></div>
<div style="position:absolute;left:683.70px;top:332.16px;font-size:9.5px;line-height:9.5px;font-weight:normal;color:#0a0a0a;white-space:nowrap;"><span style="display:inline-block;transform:scaleX(0.9396);transform-origin:0 0;">Absence Excused</span></div>
<div style="position:absolute;left:777.70px;top:328.70px;width:40.10px;height:15.00px;box-sizing:border-box;background:#fff;border:1px solid #e6e8eb;border-top-color:#bfc2c9;border-radius:2px;"></div>
<div style="position:absolute;left:780.10px;top:332.16px;font-size:9.5px;line-height:9.5px;font-weight:normal;color:#0a0a0a;white-space:nowrap;"><span style="">1</span></div>
<div style="position:absolute;left:830.70px;top:328.70px;width:40.00px;height:15.00px;box-sizing:border-box;background:#fff;border:1px solid #e6e8eb;border-top-color:#bfc2c9;border-radius:2px;"></div>
<div style="position:absolute;left:833.10px;top:332.16px;font-size:9.5px;line-height:9.5px;font-weight:normal;color:#0a0a0a;white-space:nowrap;"><span style="letter-spacing:0.295px;">100</span></div>
<div style="position:absolute;left:889.50px;top:328.70px;width:40.00px;height:15.00px;box-sizing:border-box;background:#fff;border:1px solid #e6e8eb;border-top-color:#bfc2c9;border-radius:2px;"></div>
<div style="position:absolute;left:18.30px;top:382.70px;width:51.30px;height:56.30px;background:#dedede;"></div>
<div style="position:absolute;left:71.10px;top:382.70px;width:51.40px;height:56.30px;background:#dedede;"></div>
<div style="position:absolute;left:124.00px;top:382.70px;width:97.80px;height:56.30px;background:#dedede;"></div>
<div style="position:absolute;left:223.30px;top:382.70px;width:89.00px;height:56.30px;background:#dedede;"></div>
<div style="position:absolute;left:314.00px;top:382.70px;width:102.40px;height:56.30px;background:#dedede;"></div>
<div style="position:absolute;left:418.00px;top:382.70px;width:51.40px;height:56.30px;background:#dedede;"></div>
<div style="position:absolute;left:471.00px;top:382.70px;width:51.00px;height:56.30px;background:#dedede;"></div>
<div style="position:absolute;left:524.00px;top:382.70px;width:61.20px;height:56.30px;background:#dedede;"></div>
<div style="position:absolute;left:587.00px;top:382.70px;width:30.20px;height:56.30px;background:#dedede;"></div>
<div style="position:absolute;left:619.00px;top:382.70px;width:151.70px;height:56.30px;background:#dedede;"></div>
<div style="position:absolute;left:772.30px;top:382.70px;width:51.70px;height:56.30px;background:#dedede;"></div>
<div style="position:absolute;left:825.30px;top:382.70px;width:51.20px;height:56.30px;background:#dedede;"></div>
<div style="position:absolute;left:878.30px;top:382.70px;width:81.70px;height:56.30px;background:#dedede;"></div>
<div style="position:absolute;left:23.50px;top:403.15px;width:40.60px;height:15.40px;box-sizing:border-box;background:#fff;border:1px solid #e6e8eb;border-top-color:#bfc2c9;border-radius:2px;"></div>
<div style="position:absolute;left:25.90px;top:406.81px;font-size:9.5px;line-height:9.5px;font-weight:normal;color:#0a0a0a;white-space:nowrap;"><span style="">2</span></div>
<div style="position:absolute;left:76.70px;top:403.35px;width:24.00px;height:15.40px;box-sizing:border-box;background:#fff;border:1px solid #e6e8eb;border-top-color:#bfc2c9;border-radius:2px;"></div>
<div style="position:absolute;left:101.50px;top:404.75px;width:15.60px;height:14.60px;box-sizing:border-box;border:1px solid #8e8e8e;border-radius:3px;background:linear-gradient(#f8f8f8,#e9e9e9 50%,#dcdcdc);"><svg width="15.6" height="14.6" style="position:absolute;left:-1px;top:-1px" viewBox="0 0 15.6 14.6"><path d="M7.2 2.9 h2.4 v3.1 h2.0 l-3.2 3.3 l-3.2 -3.3 h2.0 z" fill="#0a0a0a"/><rect x="5.2" y="10.2" width="6.6" height="1.3" fill="#555"/></svg></div>
<div style="position:absolute;left:129.20px;top:386.70px;width:87.60px;height:48.30px;box-sizing:border-box;background:#fff;border:1px solid #a9a9a9;border-right-color:#8a8a94;border-bottom-color:#c8c8c8;"></div>
<div style="position:absolute;left:132.00px;top:389.20px;width:68.00px;height:10.80px;background:#3399ff;"></div>
<div style="position:absolute;left:133.20px;top:390.66px;font-size:9.5px;line-height:9.5px;font-weight:normal;color:#fff;white-space:nowrap;"><span style="letter-spacing:-0.230px;">ANY - Any Days</span></div>
<div style="position:absolute;left:133.20px;top:401.46px;font-size:9.5px;line-height:9.5px;font-weight:normal;color:#0a0a0a;white-space:nowrap;"><span style="display:inline-block;transform:scaleX(0.9351);transform-origin:0 0;">S - Sunday</span></div>
<div style="position:absolute;left:133.20px;top:412.16px;font-size:9.5px;line-height:9.5px;font-weight:normal;color:#0a0a0a;white-space:nowrap;"><span style="display:inline-block;transform:scaleX(0.9460);transform-origin:0 0;">M - Monday</span></div>
<div style="position:absolute;left:133.20px;top:422.66px;font-size:9.5px;line-height:9.5px;font-weight:normal;color:#0a0a0a;white-space:nowrap;"><span style="letter-spacing:-0.175px;">T - Tuesday</span></div>
<svg width="13" height="46" viewBox="0 0 13 46" style="position:absolute;left:201.00px;top:387.70px"><rect x="0" y="0" width="13" height="46" fill="#f2f2f2"/><polygon points="3,10.6 9.2,10.6 6.1,7.2" fill="#404040"/><polygon points="3,36 9.2,36 6.1,39.4" fill="#404040"/><path d="M2.2 16.3 h-1 v7.6 h1 M10.8 16.3 h1 v7.6 h-1" fill="none" stroke="#b8b8b8" stroke-width="0.9"/><rect x="2.6" y="16.2" width="8" height="7.8" fill="#e4e4e4"/><path d="M3.4 18 h6.4 M3.4 20.1 h6.4 M3.4 22.2 h6.4" stroke="#505050" stroke-width="1"/></svg>
<div style="position:absolute;left:228.40px;top:403.75px;width:62.30px;height:15.00px;box-sizing:border-box;background:#fff;border:1px solid #e6e8eb;border-top-color:#bfc2c9;border-radius:2px;"></div>
<div style="position:absolute;left:230.80px;top:407.21px;font-size:9.5px;line-height:9.5px;font-weight:normal;color:#0a0a0a;white-space:nowrap;"><span style="display:inline-block;transform:scaleX(0.8897);transform-origin:0 0;">UNX</span></div>
<div style="position:absolute;left:291.00px;top:404.85px;width:15.60px;height:14.60px;box-sizing:border-box;border:1px solid #8e8e8e;border-radius:3px;background:linear-gradient(#f8f8f8,#e9e9e9 50%,#dcdcdc);"><svg width="15.6" height="14.6" style="position:absolute;left:-1px;top:-1px" viewBox="0 0 15.6 14.6"><path d="M7.2 2.9 h2.4 v3.1 h2.0 l-3.2 3.3 l-3.2 -3.3 h2.0 z" fill="#0a0a0a"/><rect x="5.2" y="10.2" width="6.6" height="1.3" fill="#555"/></svg></div>
<div style="position:absolute;left:322.20px;top:389.50px;width:11.00px;height:10.80px;box-sizing:border-box;border:1px solid #8c8c8c;background:linear-gradient(135deg,#d4d4d4,#fbfbfb);box-shadow:inset 0 0 0 1px #f0f0f0;"></div>
<div style="position:absolute;left:337.80px;top:390.96px;font-size:9.5px;line-height:9.5px;font-weight:normal;color:#0a0a0a;white-space:nowrap;"><span style="display:inline-block;transform:scaleX(0.9236);transform-origin:0 0;">All Periods</span></div>
<div style="position:absolute;left:322.20px;top:405.80px;width:11.00px;height:10.80px;box-sizing:border-box;border:1px solid #8c8c8c;background:linear-gradient(135deg,#d4d4d4,#fbfbfb);box-shadow:inset 0 0 0 1px #f0f0f0;"></div>
<div style="position:absolute;left:337.80px;top:407.66px;font-size:9.5px;line-height:9.5px;font-weight:normal;color:#0a0a0a;white-space:nowrap;"><span style="display:inline-block;transform:scaleX(0.9273);transform-origin:0 0;">Scheduled Periods</span></div>
<div style="position:absolute;left:319.30px;top:420.30px;width:61.20px;height:15.40px;box-sizing:border-box;background:#fff;border:1px solid #e6e8eb;border-top-color:#bfc2c9;border-radius:2px;"></div>
<div style="position:absolute;left:321.70px;top:423.96px;font-size:9.5px;line-height:9.5px;font-weight:normal;color:#0a0a0a;white-space:nowrap;"><span style="display:inline-block;transform:scaleX(0.9416);transform-origin:0 0;">Hmrm</span></div>
<div style="position:absolute;left:382.20px;top:421.50px;width:15.60px;height:14.60px;box-sizing:border-box;border:1px solid #8e8e8e;border-radius:3px;background:linear-gradient(#f8f8f8,#e9e9e9 50%,#dcdcdc);"><svg width="15.6" height="14.6" style="position:absolute;left:-1px;top:-1px" viewBox="0 0 15.6 14.6"><path d="M7.2 2.9 h2.4 v3.1 h2.0 l-3.2 3.3 l-3.2 -3.3 h2.0 z" fill="#0a0a0a"/><rect x="5.2" y="10.2" width="6.6" height="1.3" fill="#555"/></svg></div>
<div style="position:absolute;left:423.40px;top:403.75px;width:40.00px;height:14.80px;box-sizing:border-box;background:#fff;border:1px solid #e6e8eb;border-top-color:#bfc2c9;border-radius:2px;"></div>
<div style="position:absolute;left:425.80px;top:407.11px;font-size:9.5px;line-height:9.5px;font-weight:normal;color:#0a0a0a;white-space:nowrap;"><span style="">1</span></div>
<div style="position:absolute;left:476.50px;top:403.75px;width:40.00px;height:14.80px;box-sizing:border-box;background:#fff;border:1px solid #e6e8eb;border-top-color:#bfc2c9;border-radius:2px;"></div>
<div style="position:absolute;left:549.20px;top:405.75px;width:11.00px;height:10.80px;box-sizing:border-box;border:1px solid #8c8c8c;background:linear-gradient(135deg,#d4d4d4,#fbfbfb);box-shadow:inset 0 0 0 1px #f0f0f0;"></div>
<div style="position:absolute;left:596.80px;top:405.75px;width:11.00px;height:10.80px;box-sizing:border-box;border:1px solid #8c8c8c;background:linear-gradient(135deg,#d4d4d4,#fbfbfb);box-shadow:inset 0 0 0 1px #f0f0f0;"></div>
<div style="position:absolute;left:624.20px;top:403.25px;width:40.50px;height:15.00px;box-sizing:border-box;background:#fff;border:1px solid #e6e8eb;border-top-color:#bfc2c9;border-radius:2px;"></div>
<div style="position:absolute;left:626.60px;top:406.71px;font-size:9.5px;line-height:9.5px;font-weight:normal;color:#0a0a0a;white-space:nowrap;"><span style="display:inline-block;transform:scaleX(0.8897);transform-origin:0 0;">UNX</span></div>
<div style="position:absolute;left:665.80px;top:404.85px;width:15.60px;height:14.60px;box-sizing:border-box;border:1px solid #8e8e8e;border-radius:3px;background:linear-gradient(#f8f8f8,#e9e9e9 50%,#dcdcdc);"><svg width="15.6" height="14.6" style="position:absolute;left:-1px;top:-1px" viewBox="0 0 15.6 14.6"><path d="M7.2 2.9 h2.4 v3.1 h2.0 l-3.2 3.3 l-3.2 -3.3 h2.0 z" fill="#0a0a0a"/><rect x="5.2" y="10.2" width="6.6" height="1.3" fill="#555"/></svg></div>
<div style="position:absolute;left:683.70px;top:406.71px;font-size:9.5px;line-height:9.5px;font-weight:normal;color:#0a0a0a;white-space:nowrap;"><span style="display:inline-block;transform:scaleX(0.9335);transform-origin:0 0;">Absence Unexcused</span></div>
<div style="position:absolute;left:777.70px;top:403.25px;width:40.10px;height:15.00px;box-sizing:border-box;background:#fff;border:1px solid #e6e8eb;border-top-color:#bfc2c9;border-radius:2px;"></div>
<div style="position:absolute;left:780.10px;top:406.71px;font-size:9.5px;line-height:9.5px;font-weight:normal;color:#0a0a0a;white-space:nowrap;"><span style="">1</span></div>
<div style="position:absolute;left:830.70px;top:403.25px;width:40.00px;height:15.00px;box-sizing:border-box;background:#fff;border:1px solid #e6e8eb;border-top-color:#bfc2c9;border-radius:2px;"></div>
<div style="position:absolute;left:833.10px;top:406.71px;font-size:9.5px;line-height:9.5px;font-weight:normal;color:#0a0a0a;white-space:nowrap;"><span style="letter-spacing:0.295px;">100</span></div>
<div style="position:absolute;left:889.50px;top:403.25px;width:40.00px;height:15.00px;box-sizing:border-box;background:#fff;border:1px solid #e6e8eb;border-top-color:#bfc2c9;border-radius:2px;"></div>
<div style="position:absolute;left:23.50px;top:461.25px;width:40.60px;height:15.40px;box-sizing:border-box;background:#fff;border:1px solid #d2d6dc;border-top-color:#bfc2c9;border-radius:2px;"></div>
<div style="position:absolute;left:25.90px;top:464.91px;font-size:9.5px;line-height:9.5px;font-weight:normal;color:#0a0a0a;white-space:nowrap;"><span style="">3</span></div>
<div style="position:absolute;left:76.70px;top:461.45px;width:24.00px;height:15.40px;box-sizing:border-box;background:#fff;border:1px solid #d2d6dc;border-top-color:#bfc2c9;border-radius:2px;"></div>
<div style="position:absolute;left:101.50px;top:462.85px;width:15.60px;height:14.60px;box-sizing:border-box;border:1px solid #8e8e8e;border-radius:3px;background:linear-gradient(#f8f8f8,#e9e9e9 50%,#dcdcdc);"><svg width="15.6" height="14.6" style="position:absolute;left:-1px;top:-1px" viewBox="0 0 15.6 14.6"><path d="M7.2 2.9 h2.4 v3.1 h2.0 l-3.2 3.3 l-3.2 -3.3 h2.0 z" fill="#0a0a0a"/><rect x="5.2" y="10.2" width="6.6" height="1.3" fill="#555"/></svg></div>
<div style="position:absolute;left:129.20px;top:444.80px;width:87.60px;height:48.30px;box-sizing:border-box;background:#fff;border:1px solid #a9a9a9;border-right-color:#8a8a94;border-bottom-color:#c8c8c8;"></div>
<div style="position:absolute;left:132.00px;top:447.30px;width:68.00px;height:10.80px;background:#3399ff;"></div>
<div style="position:absolute;left:133.20px;top:448.76px;font-size:9.5px;line-height:9.5px;font-weight:normal;color:#fff;white-space:nowrap;"><span style="letter-spacing:-0.230px;">ANY - Any Days</span></div>
<div style="position:absolute;left:133.20px;top:459.56px;font-size:9.5px;line-height:9.5px;font-weight:normal;color:#0a0a0a;white-space:nowrap;"><span style="display:inline-block;transform:scaleX(0.9351);transform-origin:0 0;">S - Sunday</span></div>
<div style="position:absolute;left:133.20px;top:470.26px;font-size:9.5px;line-height:9.5px;font-weight:normal;color:#0a0a0a;white-space:nowrap;"><span style="display:inline-block;transform:scaleX(0.9460);transform-origin:0 0;">M - Monday</span></div>
<div style="position:absolute;left:133.20px;top:480.76px;font-size:9.5px;line-height:9.5px;font-weight:normal;color:#0a0a0a;white-space:nowrap;"><span style="letter-spacing:-0.175px;">T - Tuesday</span></div>
<svg width="13" height="46" viewBox="0 0 13 46" style="position:absolute;left:201.00px;top:445.80px"><rect x="0" y="0" width="13" height="46" fill="#f2f2f2"/><polygon points="3,10.6 9.2,10.6 6.1,7.2" fill="#404040"/><polygon points="3,36 9.2,36 6.1,39.4" fill="#404040"/><path d="M2.2 16.3 h-1 v7.6 h1 M10.8 16.3 h1 v7.6 h-1" fill="none" stroke="#b8b8b8" stroke-width="0.9"/><rect x="2.6" y="16.2" width="8" height="7.8" fill="#e4e4e4"/><path d="M3.4 18 h6.4 M3.4 20.1 h6.4 M3.4 22.2 h6.4" stroke="#505050" stroke-width="1"/></svg>
<div style="position:absolute;left:228.40px;top:461.85px;width:62.30px;height:15.00px;box-sizing:border-box;background:#fff;border:1px solid #d2d6dc;border-top-color:#bfc2c9;border-radius:2px;"></div>
<div style="position:absolute;left:230.80px;top:465.31px;font-size:9.5px;line-height:9.5px;font-weight:normal;color:#0a0a0a;white-space:nowrap;"><span style="display:inline-block;transform:scaleX(0.8671);transform-origin:0 0;">PDA</span></div>
<div style="position:absolute;left:291.00px;top:462.95px;width:15.60px;height:14.60px;box-sizing:border-box;border:1px solid #8e8e8e;border-radius:3px;background:linear-gradient(#f8f8f8,#e9e9e9 50%,#dcdcdc);"><svg width="15.6" height="14.6" style="position:absolute;left:-1px;top:-1px" viewBox="0 0 15.6 14.6"><path d="M7.2 2.9 h2.4 v3.1 h2.0 l-3.2 3.3 l-3.2 -3.3 h2.0 z" fill="#0a0a0a"/><rect x="5.2" y="10.2" width="6.6" height="1.3" fill="#555"/></svg></div>
<div style="position:absolute;left:322.20px;top:447.60px;width:11.00px;height:10.80px;box-sizing:border-box;border:1px solid #8c8c8c;background:linear-gradient(135deg,#d4d4d4,#fbfbfb);box-shadow:inset 0 0 0 1px #f0f0f0;"></div>
<div style="position:absolute;left:337.80px;top:449.06px;font-size:9.5px;line-height:9.5px;font-weight:normal;color:#0a0a0a;white-space:nowrap;"><span style="display:inline-block;transform:scaleX(0.9236);transform-origin:0 0;">All Periods</span></div>
<div style="position:absolute;left:322.20px;top:463.90px;width:11.00px;height:10.80px;box-sizing:border-box;border:1px solid #8c8c8c;background:linear-gradient(135deg,#d4d4d4,#fbfbfb);box-shadow:inset 0 0 0 1px #f0f0f0;"></div>
<div style="position:absolute;left:337.80px;top:465.76px;font-size:9.5px;line-height:9.5px;font-weight:normal;color:#0a0a0a;white-space:nowrap;"><span style="display:inline-block;transform:scaleX(0.9273);transform-origin:0 0;">Scheduled Periods</span></div>
<div style="position:absolute;left:319.30px;top:478.40px;width:61.20px;height:15.40px;box-sizing:border-box;background:#fff;border:1px solid #d2d6dc;border-top-color:#bfc2c9;border-radius:2px;"></div>
<div style="position:absolute;left:321.70px;top:482.06px;font-size:9.5px;line-height:9.5px;font-weight:normal;color:#0a0a0a;white-space:nowrap;"><span style="display:inline-block;transform:scaleX(0.9416);transform-origin:0 0;">Hmrm</span></div>
<div style="position:absolute;left:382.20px;top:479.60px;width:15.60px;height:14.60px;box-sizing:border-box;border:1px solid #8e8e8e;border-radius:3px;background:linear-gradient(#f8f8f8,#e9e9e9 50%,#dcdcdc);"><svg width="15.6" height="14.6" style="position:absolute;left:-1px;top:-1px" viewBox="0 0 15.6 14.6"><path d="M7.2 2.9 h2.4 v3.1 h2.0 l-3.2 3.3 l-3.2 -3.3 h2.0 z" fill="#0a0a0a"/><rect x="5.2" y="10.2" width="6.6" height="1.3" fill="#555"/></svg></div>
<div style="position:absolute;left:423.40px;top:461.85px;width:40.00px;height:14.80px;box-sizing:border-box;background:#fff;border:1px solid #d2d6dc;border-top-color:#bfc2c9;border-radius:2px;"></div>
<div style="position:absolute;left:425.80px;top:465.21px;font-size:9.5px;line-height:9.5px;font-weight:normal;color:#0a0a0a;white-space:nowrap;"><span style="">1</span></div>
<div style="position:absolute;left:476.50px;top:461.85px;width:40.00px;height:14.80px;box-sizing:border-box;background:#fff;border:1px solid #d2d6dc;border-top-color:#bfc2c9;border-radius:2px;"></div>
<div style="position:absolute;left:549.20px;top:463.85px;width:11.00px;height:10.80px;box-sizing:border-box;border:1px solid #8c8c8c;background:linear-gradient(135deg,#d4d4d4,#fbfbfb);box-shadow:inset 0 0 0 1px #f0f0f0;"></div>
<div style="position:absolute;left:596.80px;top:463.85px;width:11.00px;height:10.80px;box-sizing:border-box;border:1px solid #8c8c8c;background:linear-gradient(135deg,#d4d4d4,#fbfbfb);box-shadow:inset 0 0 0 1px #f0f0f0;"></div>
<div style="position:absolute;left:624.20px;top:461.35px;width:40.50px;height:15.00px;box-sizing:border-box;background:#fff;border:1px solid #d2d6dc;border-top-color:#bfc2c9;border-radius:2px;"></div>
<div style="position:absolute;left:626.60px;top:464.81px;font-size:9.5px;line-height:9.5px;font-weight:normal;color:#0a0a0a;white-space:nowrap;"><span style="display:inline-block;transform:scaleX(0.8756);transform-origin:0 0;">ABS</span></div>
<div style="position:absolute;left:665.80px;top:462.95px;width:15.60px;height:14.60px;box-sizing:border-box;border:1px solid #8e8e8e;border-radius:3px;background:linear-gradient(#f8f8f8,#e9e9e9 50%,#dcdcdc);"><svg width="15.6" height="14.6" style="position:absolute;left:-1px;top:-1px" viewBox="0 0 15.6 14.6"><path d="M7.2 2.9 h2.4 v3.1 h2.0 l-3.2 3.3 l-3.2 -3.3 h2.0 z" fill="#0a0a0a"/><rect x="5.2" y="10.2" width="6.6" height="1.3" fill="#555"/></svg></div>
<div style="position:absolute;left:683.70px;top:464.81px;font-size:9.5px;line-height:9.5px;font-weight:normal;color:#0a0a0a;white-space:nowrap;"><span style="display:inline-block;transform:scaleX(0.9396);transform-origin:0 0;">Absence Excused</span></div>
<div style="position:absolute;left:777.70px;top:461.35px;width:40.10px;height:15.00px;box-sizing:border-box;background:#fff;border:1px solid #d2d6dc;border-top-color:#bfc2c9;border-radius:2px;"></div>
<div style="position:absolute;left:780.10px;top:464.81px;font-size:9.5px;line-height:9.5px;font-weight:normal;color:#0a0a0a;white-space:nowrap;"><span style="">0.4</span></div>
<div style="position:absolute;left:830.70px;top:461.35px;width:40.00px;height:15.00px;box-sizing:border-box;background:#fff;border:1px solid #d2d6dc;border-top-color:#bfc2c9;border-radius:2px;"></div>
<div style="position:absolute;left:833.10px;top:464.81px;font-size:9.5px;line-height:9.5px;font-weight:normal;color:#0a0a0a;white-space:nowrap;"><span style="letter-spacing:0.295px;">100</span></div>
<div style="position:absolute;left:889.50px;top:461.35px;width:40.00px;height:15.00px;box-sizing:border-box;background:#fff;border:1px solid #d2d6dc;border-top-color:#bfc2c9;border-radius:2px;"></div>
<div style="position:absolute;left:18.30px;top:498.90px;width:51.30px;height:56.30px;background:#dedede;"></div>
<div style="position:absolute;left:71.10px;top:498.90px;width:51.40px;height:56.30px;background:#dedede;"></div>
<div style="position:absolute;left:124.00px;top:498.90px;width:97.80px;height:56.30px;background:#dedede;"></div>
<div style="position:absolute;left:223.30px;top:498.90px;width:89.00px;height:56.30px;background:#dedede;"></div>
<div style="position:absolute;left:314.00px;top:498.90px;width:102.40px;height:56.30px;background:#dedede;"></div>
<div style="position:absolute;left:418.00px;top:498.90px;width:51.40px;height:56.30px;background:#dedede;"></div>
<div style="position:absolute;left:471.00px;top:498.90px;width:51.00px;height:56.30px;background:#dedede;"></div>
<div style="position:absolute;left:524.00px;top:498.90px;width:61.20px;height:56.30px;background:#dedede;"></div>
<div style="position:absolute;left:587.00px;top:498.90px;width:30.20px;height:56.30px;background:#dedede;"></div>
<div style="position:absolute;left:619.00px;top:498.90px;width:151.70px;height:56.30px;background:#dedede;"></div>
<div style="position:absolute;left:772.30px;top:498.90px;width:51.70px;height:56.30px;background:#dedede;"></div>
<div style="position:absolute;left:825.30px;top:498.90px;width:51.20px;height:56.30px;background:#dedede;"></div>
<div style="position:absolute;left:878.30px;top:498.90px;width:81.70px;height:56.30px;background:#dedede;"></div>
<div style="position:absolute;left:23.50px;top:519.35px;width:40.60px;height:15.40px;box-sizing:border-box;background:#fff;border:1px solid #e6e8eb;border-top-color:#bfc2c9;border-radius:2px;"></div>
<div style="position:absolute;left:25.90px;top:523.01px;font-size:9.5px;line-height:9.5px;font-weight:normal;color:#0a0a0a;white-space:nowrap;"><span style="">4</span></div>
<div style="position:absolute;left:76.70px;top:519.55px;width:24.00px;height:15.40px;box-sizing:border-box;background:#fff;border:1px solid #e6e8eb;border-top-color:#bfc2c9;border-radius:2px;"></div>
<div style="position:absolute;left:101.50px;top:520.95px;width:15.60px;height:14.60px;box-sizing:border-box;border:1px solid #8e8e8e;border-radius:3px;background:linear-gradient(#f8f8f8,#e9e9e9 50%,#dcdcdc);"><svg width="15.6" height="14.6" style="position:absolute;left:-1px;top:-1px" viewBox="0 0 15.6 14.6"><path d="M7.2 2.9 h2.4 v3.1 h2.0 l-3.2 3.3 l-3.2 -3.3 h2.0 z" fill="#0a0a0a"/><rect x="5.2" y="10.2" width="6.6" height="1.3" fill="#555"/></svg></div>
<div style="position:absolute;left:129.20px;top:502.90px;width:87.60px;height:48.30px;box-sizing:border-box;background:#fff;border:1px solid #a9a9a9;border-right-color:#8a8a94;border-bottom-color:#c8c8c8;"></div>
<div style="position:absolute;left:132.00px;top:505.40px;width:68.00px;height:10.80px;background:#3399ff;"></div>
<div style="position:absolute;left:133.20px;top:506.86px;font-size:9.5px;line-height:9.5px;font-weight:normal;color:#fff;white-space:nowrap;"><span style="letter-spacing:-0.230px;">ANY - Any Days</span></div>
<div style="position:absolute;left:133.20px;top:517.66px;font-size:9.5px;line-height:9.5px;font-weight:normal;color:#0a0a0a;white-space:nowrap;"><span style="display:inline-block;transform:scaleX(0.9351);transform-origin:0 0;">S - Sunday</span></div>
<div style="position:absolute;left:133.20px;top:528.36px;font-size:9.5px;line-height:9.5px;font-weight:normal;color:#0a0a0a;white-space:nowrap;"><span style="display:inline-block;transform:scaleX(0.9460);transform-origin:0 0;">M - Monday</span></div>
<div style="position:absolute;left:133.20px;top:538.86px;font-size:9.5px;line-height:9.5px;font-weight:normal;color:#0a0a0a;white-space:nowrap;"><span style="letter-spacing:-0.175px;">T - Tuesday</span></div>
<svg width="13" height="46" viewBox="0 0 13 46" style="position:absolute;left:201.00px;top:503.90px"><rect x="0" y="0" width="13" height="46" fill="#f2f2f2"/><polygon points="3,10.6 9.2,10.6 6.1,7.2" fill="#404040"/><polygon points="3,36 9.2,36 6.1,39.4" fill="#404040"/><path d="M2.2 16.3 h-1 v7.6 h1 M10.8 16.3 h1 v7.6 h-1" fill="none" stroke="#b8b8b8" stroke-width="0.9"/><rect x="2.6" y="16.2" width="8" height="7.8" fill="#e4e4e4"/><path d="M3.4 18 h6.4 M3.4 20.1 h6.4 M3.4 22.2 h6.4" stroke="#505050" stroke-width="1"/></svg>
<div style="position:absolute;left:228.40px;top:519.95px;width:62.30px;height:15.00px;box-sizing:border-box;background:#fff;border:1px solid #e6e8eb;border-top-color:#bfc2c9;border-radius:2px;"></div>
<div style="position:absolute;left:230.80px;top:523.41px;font-size:9.5px;line-height:9.5px;font-weight:normal;color:#0a0a0a;white-space:nowrap;"><span style="display:inline-block;transform:scaleX(0.8615);transform-origin:0 0;">UPDA</span></div>
<div style="position:absolute;left:291.00px;top:521.05px;width:15.60px;height:14.60px;box-sizing:border-box;border:1px solid #8e8e8e;border-radius:3px;background:linear-gradient(#f8f8f8,#e9e9e9 50%,#dcdcdc);"><svg width="15.6" height="14.6" style="position:absolute;left:-1px;top:-1px" viewBox="0 0 15.6 14.6"><path d="M7.2 2.9 h2.4 v3.1 h2.0 l-3.2 3.3 l-3.2 -3.3 h2.0 z" fill="#0a0a0a"/><rect x="5.2" y="10.2" width="6.6" height="1.3" fill="#555"/></svg></div>
<div style="position:absolute;left:322.20px;top:505.70px;width:11.00px;height:10.80px;box-sizing:border-box;border:1px solid #8c8c8c;background:linear-gradient(135deg,#d4d4d4,#fbfbfb);box-shadow:inset 0 0 0 1px #f0f0f0;"></div>
<div style="position:absolute;left:337.80px;top:507.16px;font-size:9.5px;line-height:9.5px;font-weight:normal;color:#0a0a0a;white-space:nowrap;"><span style="display:inline-block;transform:scaleX(0.9236);transform-origin:0 0;">All Periods</span></div>
<div style="position:absolute;left:322.20px;top:522.00px;width:11.00px;height:10.80px;box-sizing:border-box;border:1px solid #8c8c8c;background:linear-gradient(135deg,#d4d4d4,#fbfbfb);box-shadow:inset 0 0 0 1px #f0f0f0;"></div>
<div style="position:absolute;left:337.80px;top:523.86px;font-size:9.5px;line-height:9.5px;font-weight:normal;color:#0a0a0a;white-space:nowrap;"><span style="display:inline-block;transform:scaleX(0.9273);transform-origin:0 0;">Scheduled Periods</span></div>
<div style="position:absolute;left:319.30px;top:536.50px;width:61.20px;height:15.40px;box-sizing:border-box;background:#fff;border:1px solid #e6e8eb;border-top-color:#bfc2c9;border-radius:2px;"></div>
<div style="position:absolute;left:321.70px;top:540.16px;font-size:9.5px;line-height:9.5px;font-weight:normal;color:#0a0a0a;white-space:nowrap;"><span style="display:inline-block;transform:scaleX(0.9416);transform-origin:0 0;">Hmrm</span></div>
<div style="position:absolute;left:382.20px;top:537.70px;width:15.60px;height:14.60px;box-sizing:border-box;border:1px solid #8e8e8e;border-radius:3px;background:linear-gradient(#f8f8f8,#e9e9e9 50%,#dcdcdc);"><svg width="15.6" height="14.6" style="position:absolute;left:-1px;top:-1px" viewBox="0 0 15.6 14.6"><path d="M7.2 2.9 h2.4 v3.1 h2.0 l-3.2 3.3 l-3.2 -3.3 h2.0 z" fill="#0a0a0a"/><rect x="5.2" y="10.2" width="6.6" height="1.3" fill="#555"/></svg></div>
<div style="position:absolute;left:423.40px;top:519.95px;width:40.00px;height:14.80px;box-sizing:border-box;background:#fff;border:1px solid #e6e8eb;border-top-color:#bfc2c9;border-radius:2px;"></div>
<div style="position:absolute;left:425.80px;top:523.31px;font-size:9.5px;line-height:9.5px;font-weight:normal;color:#0a0a0a;white-space:nowrap;"><span style="">1</span></div>
<div style="position:absolute;left:476.50px;top:519.95px;width:40.00px;height:14.80px;box-sizing:border-box;background:#fff;border:1px solid #e6e8eb;border-top-color:#bfc2c9;border-radius:2px;"></div>
<div style="position:absolute;left:549.20px;top:521.95px;width:11.00px;height:10.80px;box-sizing:border-box;border:1px solid #8c8c8c;background:linear-gradient(135deg,#d4d4d4,#fbfbfb);box-shadow:inset 0 0 0 1px #f0f0f0;"></div>
<div style="position:absolute;left:596.80px;top:521.95px;width:11.00px;height:10.80px;box-sizing:border-box;border:1px solid #8c8c8c;background:linear-gradient(135deg,#d4d4d4,#fbfbfb);box-shadow:inset 0 0 0 1px #f0f0f0;"></div>
<div style="position:absolute;left:624.20px;top:519.45px;width:40.50px;height:15.00px;box-sizing:border-box;background:#fff;border:1px solid #e6e8eb;border-top-color:#bfc2c9;border-radius:2px;"></div>
<div style="position:absolute;left:626.60px;top:522.91px;font-size:9.5px;line-height:9.5px;font-weight:normal;color:#0a0a0a;white-space:nowrap;"><span style="display:inline-block;transform:scaleX(0.8897);transform-origin:0 0;">UNX</span></div>
<div style="position:absolute;left:665.80px;top:521.05px;width:15.60px;height:14.60px;box-sizing:border-box;border:1px solid #8e8e8e;border-radius:3px;background:linear-gradient(#f8f8f8,#e9e9e9 50%,#dcdcdc);"><svg width="15.6" height="14.6" style="position:absolute;left:-1px;top:-1px" viewBox="0 0 15.6 14.6"><path d="M7.2 2.9 h2.4 v3.1 h2.0 l-3.2 3.3 l-3.2 -3.3 h2.0 z" fill="#0a0a0a"/><rect x="5.2" y="10.2" width="6.6" height="1.3" fill="#555"/></svg></div>
<div style="position:absolute;left:683.70px;top:522.91px;font-size:9.5px;line-height:9.5px;font-weight:normal;color:#0a0a0a;white-space:nowrap;"><span style="display:inline-block;transform:scaleX(0.9335);transform-origin:0 0;">Absence Unexcused</span></div>
<div style="position:absolute;left:777.70px;top:519.45px;width:40.10px;height:15.00px;box-sizing:border-box;background:#fff;border:1px solid #e6e8eb;border-top-color:#bfc2c9;border-radius:2px;"></div>
<div style="position:absolute;left:780.10px;top:522.91px;font-size:9.5px;line-height:9.5px;font-weight:normal;color:#0a0a0a;white-space:nowrap;"><span style="">0.4</span></div>
<div style="position:absolute;left:830.70px;top:519.45px;width:40.00px;height:15.00px;box-sizing:border-box;background:#fff;border:1px solid #e6e8eb;border-top-color:#bfc2c9;border-radius:2px;"></div>
<div style="position:absolute;left:833.10px;top:522.91px;font-size:9.5px;line-height:9.5px;font-weight:normal;color:#0a0a0a;white-space:nowrap;"><span style="letter-spacing:0.295px;">100</span></div>
<div style="position:absolute;left:889.50px;top:519.45px;width:40.00px;height:15.00px;box-sizing:border-box;background:#fff;border:1px solid #e6e8eb;border-top-color:#bfc2c9;border-radius:2px;"></div>
<div style="position:absolute;left:23.50px;top:577.45px;width:40.60px;height:15.40px;box-sizing:border-box;background:#fff;border:1px solid #d2d6dc;border-top-color:#bfc2c9;border-radius:2px;"></div>
<div style="position:absolute;left:25.90px;top:581.11px;font-size:9.5px;line-height:9.5px;font-weight:normal;color:#0a0a0a;white-space:nowrap;"><span style="">5</span></div>
<div style="position:absolute;left:76.70px;top:577.65px;width:24.00px;height:15.40px;box-sizing:border-box;background:#fff;border:1px solid #d2d6dc;border-top-color:#bfc2c9;border-radius:2px;"></div>
<div style="position:absolute;left:101.50px;top:579.05px;width:15.60px;height:14.60px;box-sizing:border-box;border:1px solid #8e8e8e;border-radius:3px;background:linear-gradient(#f8f8f8,#e9e9e9 50%,#dcdcdc);"><svg width="15.6" height="14.6" style="position:absolute;left:-1px;top:-1px" viewBox="0 0 15.6 14.6"><path d="M7.2 2.9 h2.4 v3.1 h2.0 l-3.2 3.3 l-3.2 -3.3 h2.0 z" fill="#0a0a0a"/><rect x="5.2" y="10.2" width="6.6" height="1.3" fill="#555"/></svg></div>
<div style="position:absolute;left:129.20px;top:561.00px;width:87.60px;height:48.30px;box-sizing:border-box;background:#fff;border:1px solid #a9a9a9;border-right-color:#8a8a94;border-bottom-color:#c8c8c8;"></div>
<div style="position:absolute;left:133.20px;top:564.96px;font-size:9.5px;line-height:9.5px;font-weight:normal;color:#222;white-space:nowrap;"><span style="letter-spacing:-0.230px;">ANY - Any Days</span></div>
<div style="position:absolute;left:133.20px;top:575.76px;font-size:9.5px;line-height:9.5px;font-weight:normal;color:#0a0a0a;white-space:nowrap;"><span style="display:inline-block;transform:scaleX(0.9351);transform-origin:0 0;">S - Sunday</span></div>
<div style="position:absolute;left:133.20px;top:586.46px;font-size:9.5px;line-height:9.5px;font-weight:normal;color:#0a0a0a;white-space:nowrap;"><span style="display:inline-block;transform:scaleX(0.9460);transform-origin:0 0;">M - Monday</span></div>
<div style="position:absolute;left:133.20px;top:596.96px;font-size:9.5px;line-height:9.5px;font-weight:normal;color:#0a0a0a;white-space:nowrap;"><span style="letter-spacing:-0.175px;">T - Tuesday</span></div>
<svg width="13" height="46" viewBox="0 0 13 46" style="position:absolute;left:201.00px;top:562.00px"><rect x="0" y="0" width="13" height="46" fill="#f2f2f2"/><polygon points="3,10.6 9.2,10.6 6.1,7.2" fill="#404040"/><polygon points="3,36 9.2,36 6.1,39.4" fill="#404040"/><path d="M2.2 16.3 h-1 v7.6 h1 M10.8 16.3 h1 v7.6 h-1" fill="none" stroke="#b8b8b8" stroke-width="0.9"/><rect x="2.6" y="16.2" width="8" height="7.8" fill="#e4e4e4"/><path d="M3.4 18 h6.4 M3.4 20.1 h6.4 M3.4 22.2 h6.4" stroke="#505050" stroke-width="1"/></svg>
<div style="position:absolute;left:228.40px;top:578.05px;width:62.30px;height:15.00px;box-sizing:border-box;background:#fff;border:1px solid #d2d6dc;border-top-color:#bfc2c9;border-radius:2px;"></div>
<div style="position:absolute;left:291.00px;top:579.15px;width:15.60px;height:14.60px;box-sizing:border-box;border:1px solid #8e8e8e;border-radius:3px;background:linear-gradient(#f8f8f8,#e9e9e9 50%,#dcdcdc);"><svg width="15.6" height="14.6" style="position:absolute;left:-1px;top:-1px" viewBox="0 0 15.6 14.6"><path d="M7.2 2.9 h2.4 v3.1 h2.0 l-3.2 3.3 l-3.2 -3.3 h2.0 z" fill="#0a0a0a"/><rect x="5.2" y="10.2" width="6.6" height="1.3" fill="#555"/></svg></div>
<div style="position:absolute;left:322.20px;top:563.80px;width:11.00px;height:10.80px;box-sizing:border-box;border:1px solid #8c8c8c;background:linear-gradient(135deg,#d4d4d4,#fbfbfb);box-shadow:inset 0 0 0 1px #f0f0f0;"></div>
<div style="position:absolute;left:337.80px;top:565.26px;font-size:9.5px;line-height:9.5px;font-weight:normal;color:#0a0a0a;white-space:nowrap;"><span style="display:inline-block;transform:scaleX(0.9236);transform-origin:0 0;">All Periods</span></div>
<div style="position:absolute;left:322.20px;top:580.10px;width:11.00px;height:10.80px;box-sizing:border-box;border:1px solid #8c8c8c;background:linear-gradient(135deg,#d4d4d4,#fbfbfb);box-shadow:inset 0 0 0 1px #f0f0f0;"></div>
<div style="position:absolute;left:337.80px;top:581.96px;font-size:9.5px;line-height:9.5px;font-weight:normal;color:#0a0a0a;white-space:nowrap;"><span style="display:inline-block;transform:scaleX(0.9273);transform-origin:0 0;">Scheduled Periods</span></div>
<div style="position:absolute;left:319.30px;top:594.60px;width:61.20px;height:15.40px;box-sizing:border-box;background:#fff;border:1px solid #d2d6dc;border-top-color:#bfc2c9;border-radius:2px;"></div>
<div style="position:absolute;left:321.70px;top:598.26px;font-size:9.5px;line-height:9.5px;font-weight:normal;color:#0a0a0a;white-space:nowrap;"><span style="display:inline-block;transform:scaleX(0.9416);transform-origin:0 0;">Hmrm</span></div>
<div style="position:absolute;left:382.20px;top:595.80px;width:15.60px;height:14.60px;box-sizing:border-box;border:1px solid #8e8e8e;border-radius:3px;background:linear-gradient(#f8f8f8,#e9e9e9 50%,#dcdcdc);"><svg width="15.6" height="14.6" style="position:absolute;left:-1px;top:-1px" viewBox="0 0 15.6 14.6"><path d="M7.2 2.9 h2.4 v3.1 h2.0 l-3.2 3.3 l-3.2 -3.3 h2.0 z" fill="#0a0a0a"/><rect x="5.2" y="10.2" width="6.6" height="1.3" fill="#555"/></svg></div>
<div style="position:absolute;left:423.40px;top:578.05px;width:40.00px;height:14.80px;box-sizing:border-box;background:#fff;border:1px solid #d2d6dc;border-top-color:#bfc2c9;border-radius:2px;"></div>
<div style="position:absolute;left:476.50px;top:578.05px;width:40.00px;height:14.80px;box-sizing:border-box;background:#fff;border:1px solid #d2d6dc;border-top-color:#bfc2c9;border-radius:2px;"></div>
<div style="position:absolute;left:549.20px;top:580.05px;width:11.00px;height:10.80px;box-sizing:border-box;border:1px solid #8c8c8c;background:linear-gradient(135deg,#d4d4d4,#fbfbfb);box-shadow:inset 0 0 0 1px #f0f0f0;"></div>
<div style="position:absolute;left:596.80px;top:580.05px;width:11.00px;height:10.80px;box-sizing:border-box;border:1px solid #8c8c8c;background:linear-gradient(135deg,#d4d4d4,#fbfbfb);box-shadow:inset 0 0 0 1px #f0f0f0;"></div>
<div style="position:absolute;left:624.20px;top:577.55px;width:40.50px;height:15.00px;box-sizing:border-box;background:#fff;border:1px solid #d2d6dc;border-top-color:#bfc2c9;border-radius:2px;"></div>
<div style="position:absolute;left:665.80px;top:579.15px;width:15.60px;height:14.60px;box-sizing:border-box;border:1px solid #8e8e8e;border-radius:3px;background:linear-gradient(#f8f8f8,#e9e9e9 50%,#dcdcdc);"><svg width="15.6" height="14.6" style="position:absolute;left:-1px;top:-1px" viewBox="0 0 15.6 14.6"><path d="M7.2 2.9 h2.4 v3.1 h2.0 l-3.2 3.3 l-3.2 -3.3 h2.0 z" fill="#0a0a0a"/><rect x="5.2" y="10.2" width="6.6" height="1.3" fill="#555"/></svg></div>
<div style="position:absolute;left:777.70px;top:577.55px;width:40.10px;height:15.00px;box-sizing:border-box;background:#fff;border:1px solid #d2d6dc;border-top-color:#bfc2c9;border-radius:2px;"></div>
<div style="position:absolute;left:830.70px;top:577.55px;width:40.00px;height:15.00px;box-sizing:border-box;background:#fff;border:1px solid #d2d6dc;border-top-color:#bfc2c9;border-radius:2px;"></div>
<div style="position:absolute;left:889.50px;top:577.55px;width:40.00px;height:15.00px;box-sizing:border-box;background:#fff;border:1px solid #d2d6dc;border-top-color:#bfc2c9;border-radius:2px;"></div>
</div>
<svg width="900" height="575" style="position:absolute;left:0;top:0" viewBox="0 0 900 575"><polyline points="892.8,0.0 892.8,1.6 893.7,3.2 893.0,4.9 892.5,6.5 893.3,8.1 892.4,9.8 892.5,11.4 893.3,13.0 895.3,14.8 893.3,16.5 891.3,18.2 892.8,20.0 891.8,21.5 891.2,23.0 891.5,24.5 891.2,26.0 891.9,27.7 892.6,29.3 893.3,31.0 893.0,32.6 893.7,34.2 893.1,35.8 891.9,37.4 892.0,39.0 890.5,40.6 892.9,42.2 893.3,43.8 891.7,45.4 892.8,47.0 893.0,48.7 892.6,50.3 891.2,52.0 890.9,53.6 892.5,55.2 891.7,56.8 893.7,58.4 893.3,60.0 892.5,61.7 893.6,63.3 893.2,65.0 892.4,66.7 892.2,68.3 892.8,70.0 891.8,71.6 891.6,73.2 892.7,74.8 891.2,76.4 891.2,78.0 890.9,79.6 892.2,81.2 891.1,82.9 891.5,84.5 892.7,86.1 890.9,87.8 894.1,89.4 892.8,91.0 892.6,92.6 892.6,94.2 893.2,95.9 891.8,97.5 892.9,99.1 891.6,100.8 892.9,102.4 892.0,104.0 892.6,105.6 891.9,107.2 892.0,108.9 891.7,110.5 891.8,112.1 890.7,113.8 889.9,115.4 890.7,117.0 891.6,118.6 891.2,120.2 893.3,121.8 892.4,123.4 893.8,125.0 894.5,126.7 893.6,128.3 893.1,130.0 894.0,131.7 893.3,133.3 892.8,135.0 890.9,136.6 892.8,138.1 892.4,139.7 893.9,141.3 896.0,142.9 894.4,144.4 893.8,146.0 893.7,147.6 893.6,149.1 892.7,150.7 892.5,152.2 891.9,153.8 891.0,155.3 890.2,156.9 888.3,158.4 889.4,160.0 890.7,161.7 890.3,163.3 891.2,165.0 891.0,166.7 890.1,168.3 892.8,170.0 892.9,171.5 893.3,173.0 892.8,174.5 892.9,176.0 893.2,177.5 891.9,179.0 891.8,180.5 892.7,182.0 891.5,183.5 892.0,185.0 891.6,186.5 891.7,188.0 892.1,189.5 893.4,191.0 892.0,192.5 893.5,194.0 892.7,195.5 893.3,197.0 893.8,198.5 893.3,200.0 892.8,201.5 892.5,203.0 893.0,204.5 892.2,206.0 892.4,207.5 891.9,209.0 892.3,210.5 892.1,212.0 890.8,213.5 891.2,215.0 891.6,216.5 892.3,218.0 891.1,219.5 892.7,221.0 891.2,222.5 892.7,224.0 893.1,225.5 893.4,227.0 893.3,228.5 892.8,230.0 892.1,231.5 893.2,233.0 892.2,234.5 894.2,236.0 892.3,237.5 892.2,239.0 891.9,240.5 891.0,242.0 892.2,243.5 891.2,245.0 891.4,246.5 891.2,248.0 892.3,249.5 891.1,251.0 892.1,252.5 890.8,254.0 891.5,255.5 892.8,257.0 892.6,258.5 892.8,260.0 893.3,261.7 892.6,263.3 892.7,265.0 892.1,266.7 891.4,268.3 891.2,270.0 892.0,271.5 890.9,273.0 892.4,274.5 892.1,276.0 892.7,277.5 891.8,279.0 892.4,280.5 892.5,282.0 893.0,283.5 892.8,285.0 893.5,286.5 892.3,288.0 892.4,289.5 893.8,291.0 892.8,292.5 891.4,294.0 891.0,295.5 892.1,297.0 891.3,298.5 891.2,300.0 890.7,301.6 892.2,303.2 890.9,304.9 890.7,306.5 892.1,308.1 891.8,309.8 892.0,311.4 892.0,313.0 892.0,314.6 891.9,316.2 890.4,317.9 891.6,319.5 890.9,321.1 890.6,322.8 889.8,324.4 890.1,326.0 890.6,327.6 891.5,329.2 890.8,330.9 891.6,332.5 891.2,334.1 890.5,335.8 891.7,337.4 892.8,339.0 892.5,340.6 892.5,342.2 891.7,343.9 894.3,345.5 894.0,347.1 891.9,348.8 889.0,350.4 891.2,352.0 891.6,353.6 891.6,355.2 891.1,356.9 891.4,358.5 892.5,360.1 891.7,361.8 893.2,363.4 892.8,365.0 892.6,366.6 890.8,368.2 891.4,369.9 892.2,371.5 890.9,373.1 889.6,374.8 891.3,376.4 890.7,378.0 891.2,379.6 891.4,381.2 892.4,382.9 891.3,384.5 892.5,386.1 892.8,387.8 893.3,389.4 892.8,391.0 892.9,392.6 892.8,394.2 893.7,395.9 891.0,397.5 892.4,399.1 890.4,400.8 891.8,402.4 890.7,404.0 890.4,405.6 892.0,407.2 891.5,408.9 890.6,410.5 891.1,412.1 890.9,413.8 892.8,415.4 892.0,417.0 891.6,418.6 891.6,420.2 894.0,421.9 890.8,423.5 890.7,425.1 892.2,426.8 891.4,428.4 891.2,430.0 891.0,431.6 890.7,433.2 890.7,434.9 890.9,436.5 891.7,438.1 889.8,439.8 891.0,441.4 890.7,443.0 892.4,444.5 889.5,446.0 889.6,447.5 889.9,449.0 889.3,450.5 889.6,452.0 890.6,453.5 890.0,455.0 890.9,456.5 889.9,458.0 890.7,459.5 890.2,461.0 890.6,462.5 891.5,464.0 891.9,465.5 891.2,467.0 891.5,468.5 891.8,470.0 892.6,471.5 893.0,473.0 892.2,474.5 892.0,476.0 891.4,477.5 891.7,479.0 891.6,480.5 890.6,482.0 891.8,483.5 890.4,485.0 889.0,486.5 890.3,488.0 888.8,489.5 890.0,491.0 891.6,492.5 890.6,494.0 891.0,495.5 891.9,497.0 891.3,498.5 891.5,500.0 892.0,501.6 891.3,503.1 891.1,504.7 890.6,506.3 891.3,507.9 891.5,509.4 891.0,511.0 890.5,512.5 891.3,514.0 890.9,515.5 891.1,517.0 891.9,518.5 893.1,520.0 893.1,521.5 891.5,523.0 891.7,524.5 891.7,526.0 891.1,527.5 891.3,529.0 890.2,530.5 890.8,532.0 889.4,533.5 889.6,535.0 890.8,536.5 889.7,538.0 890.9,539.5 890.1,541.0 890.2,542.5 891.6,544.0 892.1,545.5 892.0,547.0 891.8,548.6 892.2,550.1 891.3,551.7 892.6,553.3 890.0,554.9 892.8,556.4 892.0,558.0 893.7,559.5 888.5,561.0 889.8,562.5 889.4,564.0 889.8,565.5 889.0,567.0 887.7,568.5 887.5,570.0 886.6,571.5 886.0,573.0 885.0,573.0 883.3,571.6 881.7,572.1 880.0,570.8 878.4,571.2 876.8,570.7 875.1,569.7 873.5,568.7 871.9,568.9 870.2,569.1 868.6,568.8 867.0,568.0 865.2,567.5 863.5,567.9 861.8,566.9 860.0,566.3 858.5,567.5 857.0,566.1 855.5,565.5 854.0,565.8 852.5,565.6 851.0,564.4 849.5,564.9 848.0,564.7 846.3,566.4 844.7,567.1 843.0,568.0 841.4,567.9 839.9,567.5 838.3,567.7 836.7,565.9 835.1,566.9 833.6,565.3 832.0,565.3 830.2,565.3 828.5,564.0 826.8,564.0 825.0,563.7 823.4,563.1 821.8,563.6 820.1,563.5 818.5,564.3 816.9,564.2 815.2,563.6 813.6,564.3 812.0,564.7 810.0,563.1 808.0,563.0 806.5,563.7 805.0,563.7 803.3,564.7 801.7,565.2 800.0,564.6 798.3,566.6 796.7,566.2 795.0,567.0 793.5,566.7 792.0,567.1 790.5,566.6 789.0,566.3 787.5,567.0 786.0,568.8 784.5,567.1 783.0,566.3 781.5,566.9 780.0,566.3 778.3,565.9 776.7,567.1 775.0,565.0 773.3,564.4 771.7,564.6 770.0,566.0 768.3,566.7 766.7,565.3 765.0,566.3 763.3,566.8 761.7,566.6 760.0,567.5 758.3,566.9 756.7,568.1 755.0,567.0 753.3,567.6 751.7,566.7 750.0,567.5 748.5,568.4 747.0,566.9 745.5,566.6 744.0,568.0 742.5,566.1 741.0,567.5 739.5,567.1 738.0,567.5 736.4,567.2 734.8,567.3 733.1,567.8 731.5,568.3 729.9,568.4 728.2,568.7 726.6,569.8 725.0,570.0 723.2,570.2 721.5,571.3 719.8,571.1 718.0,571.7 716.4,571.8 714.8,571.7 713.1,570.7 711.5,569.4 709.9,569.1 708.2,568.0 706.6,567.2 705.0,567.5 703.2,567.9 701.5,568.6 699.8,568.7 698.0,570.0 696.5,570.3 695.0,568.1 693.5,568.0 692.0,568.0 690.5,567.9 689.0,568.8 687.5,568.7 686.0,568.5 684.5,569.3 683.0,569.4 681.5,568.7 680.0,569.2 678.4,569.2 676.8,569.8 675.2,570.5 673.6,570.1 672.0,571.3 670.3,573.9 668.7,573.1 667.0,573.0 665.5,572.8 664.0,568.8 662.5,569.7 661.0,568.9 659.5,568.5 658.0,567.5 656.3,567.0 654.7,567.4 653.0,567.5 651.3,567.8 649.7,567.4 648.0,567.0 646.4,565.1 644.8,569.4 643.2,570.6 641.6,568.4 640.0,568.7 638.2,568.8 636.5,568.5 634.8,569.9 633.0,570.8 631.3,569.1 629.7,569.6 628.0,568.0 626.4,567.6 624.8,567.8 623.2,568.2 621.6,568.8 620.0,568.0 618.3,566.2 616.7,565.1 615.0,563.3 613.3,563.4 611.7,564.2 610.0,565.3 608.3,566.6 606.7,565.9 605.0,567.0 603.3,566.6 601.7,566.8 600.0,567.0 598.3,567.6 596.7,566.1 595.0,566.7 593.2,566.4 591.5,565.2 589.8,563.5 588.0,562.5 586.4,563.4 584.8,562.9 583.2,562.7 581.6,562.6 580.0,563.3 578.3,562.7 576.7,562.8 575.0,563.1 573.3,562.4 571.7,562.6 570.0,563.0 568.3,563.0 566.7,562.7 565.0,563.7 563.3,563.0 561.7,565.5 560.0,564.2 558.3,562.2 556.7,565.5 555.0,563.9 553.3,564.8 551.7,565.6 550.0,565.0 548.3,564.3 546.7,564.0 545.0,563.3 543.3,564.9 541.7,565.6 540.0,567.0 538.3,566.8 536.7,567.3 535.0,568.5 533.3,569.1 531.7,568.8 530.0,569.7 528.3,570.1 526.7,569.7 525.0,568.2 523.3,568.1 521.7,568.7 520.0,568.0 518.3,568.5 516.7,568.4 515.0,566.6 513.3,569.9 511.7,569.7 510.0,569.2 508.3,569.7 506.7,568.1 505.0,568.0 503.4,567.3 501.8,567.0 500.2,566.8 498.6,568.3 497.0,567.0 495.3,566.6 493.7,564.0 492.0,563.3 490.4,564.3 488.9,564.1 487.3,565.2 485.8,566.3 484.2,564.7 482.7,563.9 481.1,564.9 479.6,564.0 478.0,566.3 476.4,565.9 474.8,565.7 473.1,568.9 471.5,566.7 469.9,566.5 468.2,568.8 466.6,566.1 465.0,566.3 463.3,565.9 461.7,567.7 460.0,567.5 458.3,566.7 456.7,566.6 455.0,566.3 453.3,566.4 451.7,566.9 450.0,566.5 448.3,565.6 446.7,565.6 445.0,566.7 443.3,566.2 441.7,564.8 440.0,565.8 438.3,565.9 436.7,567.0 435.0,566.7 433.3,566.5 431.7,565.4 430.0,566.3 428.3,566.6 426.7,566.7 425.0,567.4 423.3,567.6 421.7,566.8 420.0,567.5 418.3,566.7 416.7,566.5 415.0,566.9 413.3,567.3 411.7,566.5 410.0,566.3 408.3,567.1 406.7,567.5 405.0,567.2 403.3,569.0 401.7,569.2 400.0,569.2 398.3,568.2 396.7,567.5 395.0,568.2 393.3,570.9 391.7,568.1 390.0,568.3 388.3,567.1 386.7,566.1 385.0,566.6 383.3,566.4 381.7,567.5 380.0,566.3 378.3,565.5 376.7,566.7 375.0,565.7 373.3,566.4 371.7,566.2 370.0,565.8 368.5,566.5 367.0,565.8 365.5,566.9 364.0,566.8 362.5,565.8 361.0,566.9 359.5,565.9 358.0,566.8 356.5,567.5 355.0,566.7 353.3,566.0 351.7,566.1 350.0,565.7 348.3,566.9 346.7,565.4 345.0,565.8 343.3,567.2 341.7,566.9 340.0,567.5 338.2,567.8 336.5,567.0 334.8,567.7 333.0,567.0 331.5,564.2 330.0,563.0 328.3,562.6 326.7,561.9 325.0,562.8 323.3,562.3 321.7,563.0 320.0,562.5 318.3,563.3 316.7,563.7 315.0,563.3 313.3,564.4 311.7,563.0 310.0,563.8 308.3,563.8 306.7,562.9 305.0,564.7 303.3,565.1 301.7,565.0 300.0,566.3 298.3,565.8 296.7,566.1 295.0,565.8 293.3,566.2 291.7,564.0 290.0,563.3 288.3,563.9 286.7,564.6 285.0,564.8 283.3,566.2 281.7,566.1 280.0,566.7 278.5,567.0 277.0,566.6 275.5,567.6 274.0,566.7 272.5,565.2 271.0,565.2 269.5,565.6 268.0,566.5 266.5,565.9 265.0,565.3 263.3,565.8 261.7,566.6 260.0,566.3 258.3,565.8 256.7,567.3 255.0,564.3 253.3,566.2 251.7,567.0 250.0,567.0 248.3,568.9 246.7,566.6 245.0,567.3 243.3,568.0 241.7,566.3 240.0,566.7 238.4,566.4 236.8,565.9 235.2,565.4 233.6,565.8 232.0,565.8 230.0,563.2 228.0,562.0 226.5,561.0 225.0,563.0 223.3,563.8 221.7,564.6 220.0,564.2 218.2,564.9 216.5,565.5 214.8,565.4 213.0,566.3 211.3,567.1 209.7,568.1 208.0,570.0 206.4,569.6 204.8,570.0 203.2,569.5 201.6,571.1 200.0,569.7 198.3,569.7 196.7,569.1 195.0,567.3 193.3,567.4 191.7,567.8 190.0,566.7 188.3,566.9 186.7,566.4 185.0,565.7 183.3,565.8 181.7,565.6 180.0,566.3 178.3,565.9 176.7,566.5 175.0,567.5 173.3,567.0 171.7,566.9 170.0,568.3 168.3,568.8 166.7,568.6 165.0,568.3 163.3,567.0 161.7,568.6 160.0,567.5 158.4,568.6 156.8,567.6 155.2,568.9 153.6,569.5 152.0,569.2 150.0,565.5 148.3,565.2 146.7,566.3 145.0,566.7 143.3,568.4 141.7,567.2 140.0,566.1 138.3,564.2 136.7,566.8 135.0,565.8 133.2,565.9 131.5,567.1 129.8,566.5 128.0,566.7 126.5,564.5 125.0,564.5 123.5,562.1 122.0,561.3 120.0,561.0 118.0,562.5 116.4,562.7 114.8,561.9 113.2,563.5 111.6,563.1 110.0,563.0 108.3,563.6 106.7,566.2 105.0,566.7 103.3,565.8 101.7,565.3 100.0,565.8 98.4,565.9 96.8,564.8 95.2,566.1 93.6,565.6 92.0,565.0 90.4,565.2 88.8,563.5 87.2,564.2 85.6,563.7 84.0,562.5 82.0,562.3 80.0,563.7 78.3,564.4 76.7,564.9 75.0,564.2 73.3,563.8 71.7,564.6 70.0,565.0 68.4,564.6 66.8,566.0 65.2,565.8 63.6,567.0 62.0,566.7 60.2,567.0 58.5,566.5 56.8,565.0 55.0,564.7 53.3,565.0 51.7,565.4 50.0,565.8 48.3,566.2 46.7,564.1 45.0,566.6 43.3,565.8 41.7,567.3 40.0,567.0 38.2,566.9 36.5,567.3 34.8,568.3 33.0,569.2 31.5,567.6 30.0,567.0 28.4,566.8 26.8,567.4 25.2,566.9 23.6,567.5 22.0,567.0 20.3,566.9 18.7,567.6 17.0,566.7 15.0,569.4 13.0,570.8 11.4,570.8 9.8,570.1 8.2,569.6 6.6,568.6 5.0,567.5 3.3,566.4 1.7,566.1 0.0,564.2 0.0,564.2" fill="none" stroke="#141414" stroke-width="0.8"/></svg>
</div>
</body></html>
